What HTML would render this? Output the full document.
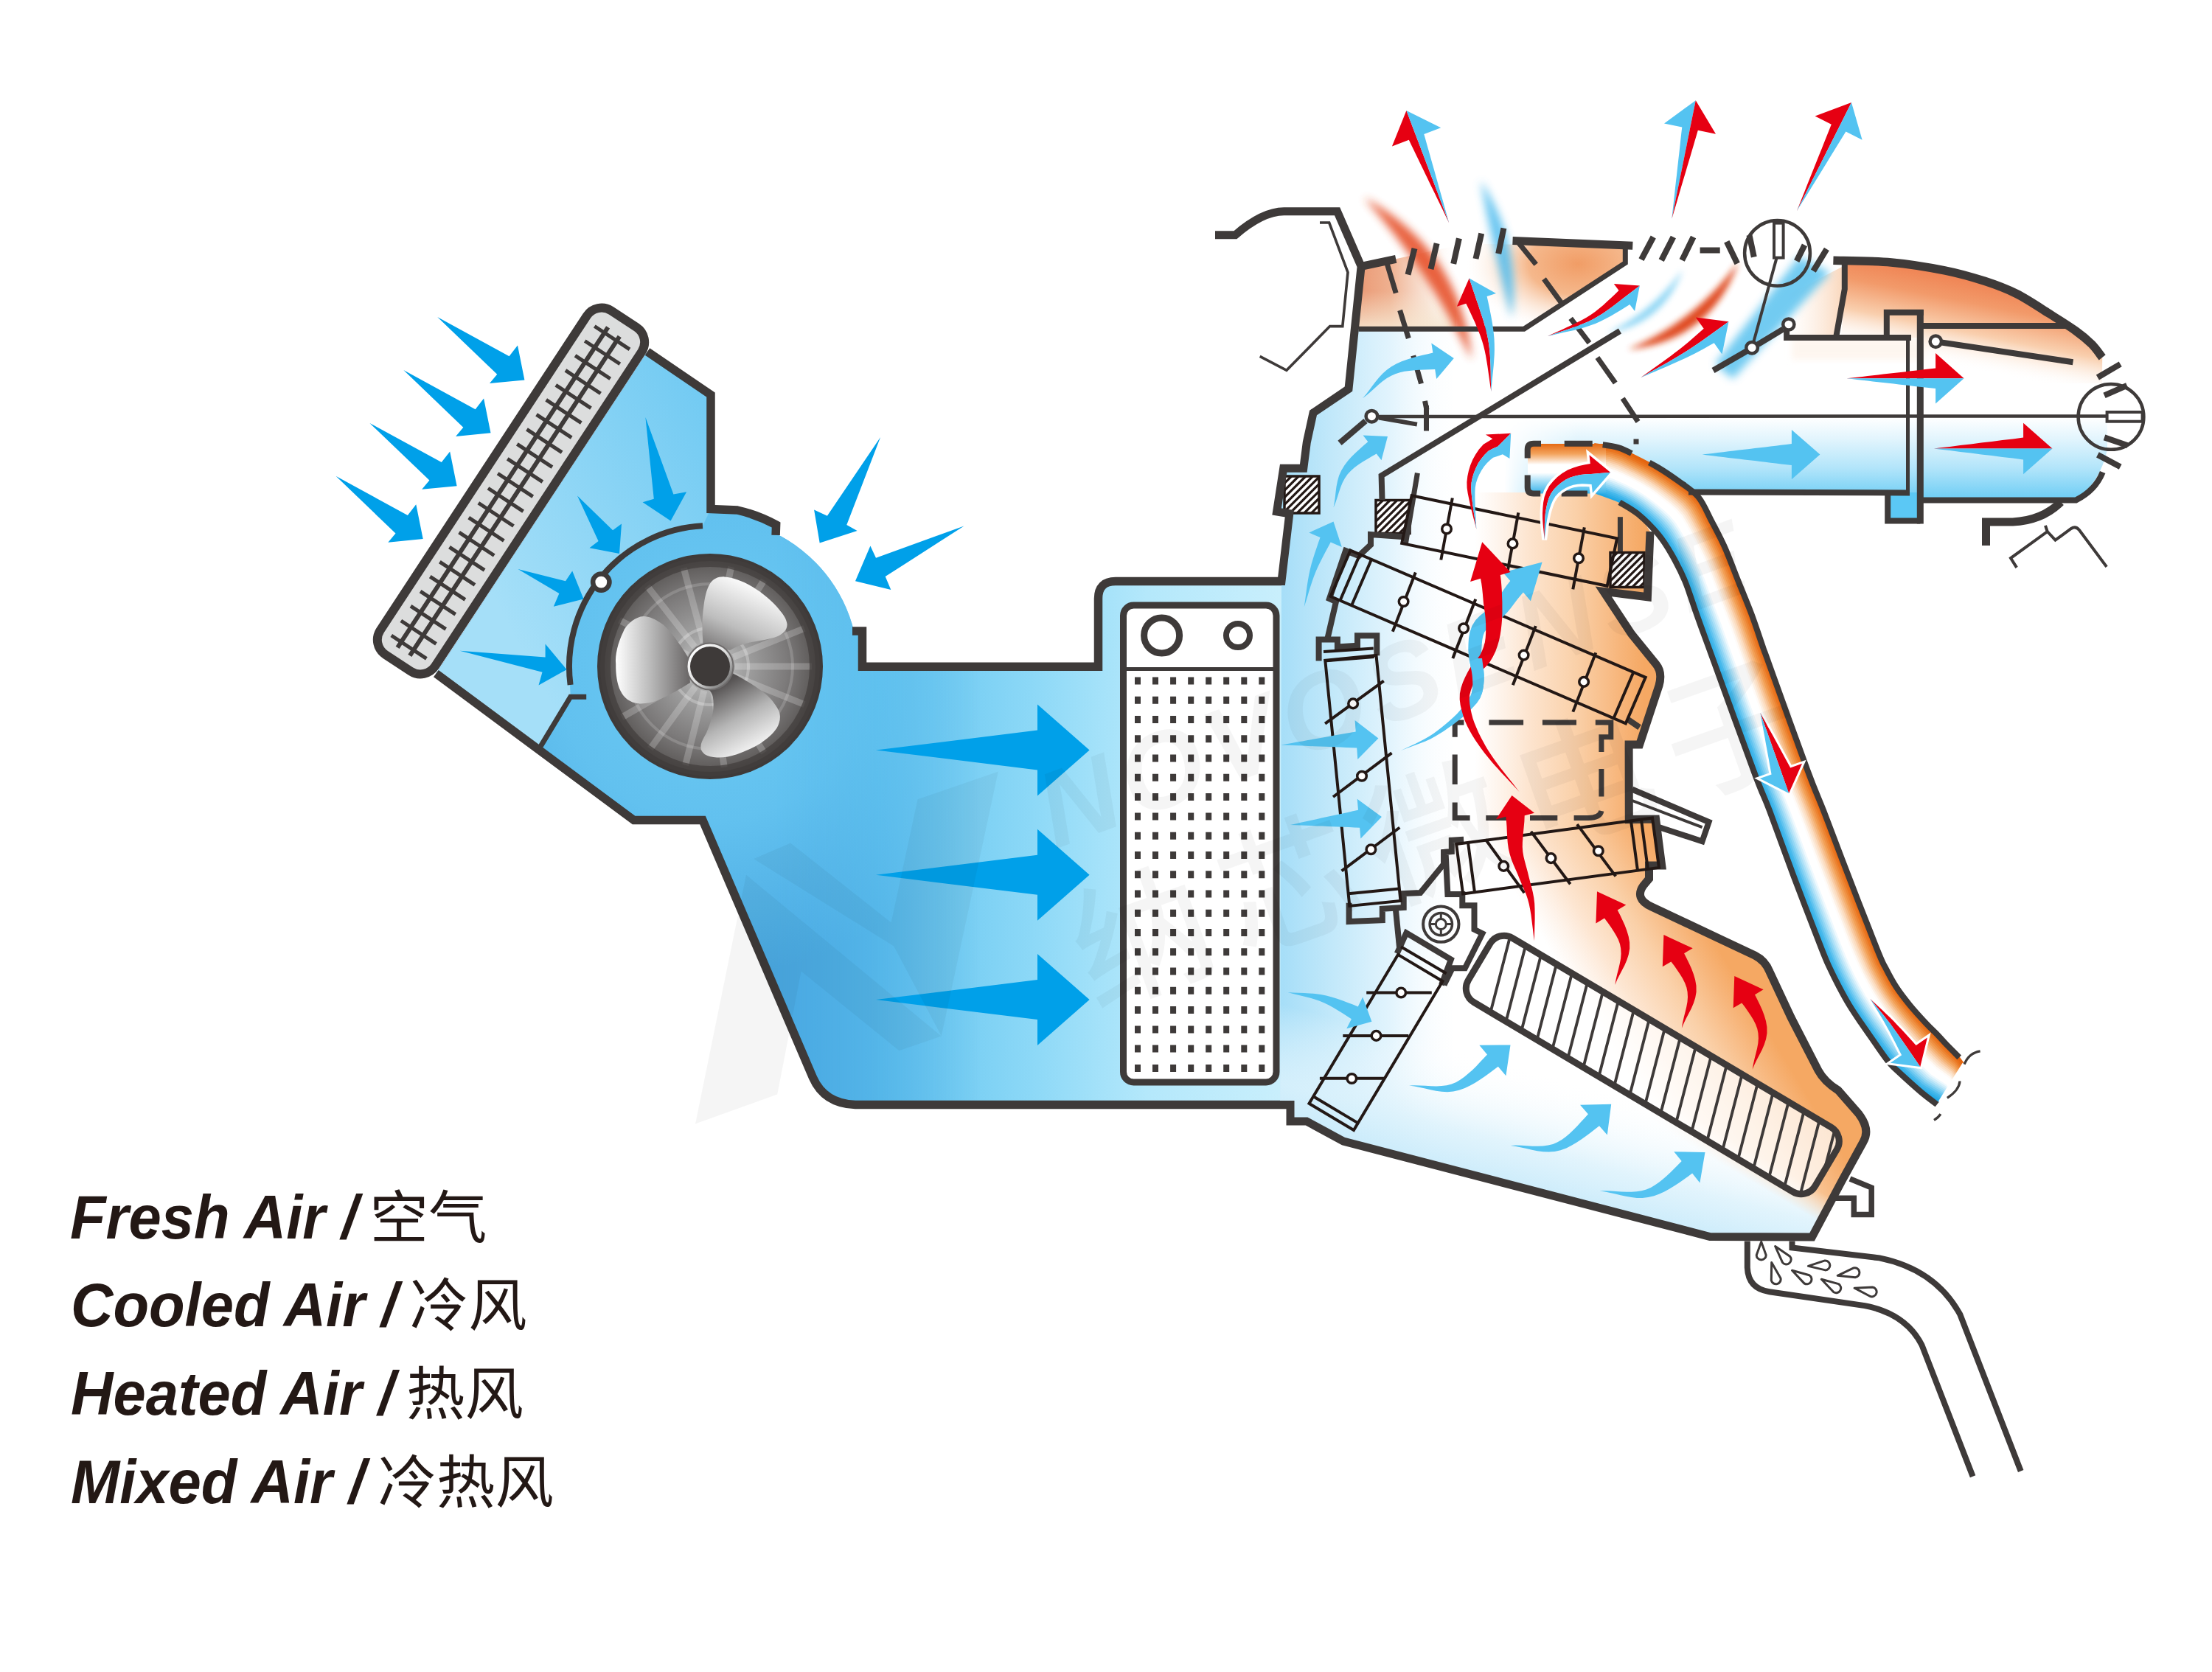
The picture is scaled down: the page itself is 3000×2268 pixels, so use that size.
<!DOCTYPE html>
<html lang="zh"><head><meta charset="utf-8"><title>HVAC Air Flow</title>
<style>
html,body{margin:0;padding:0;background:#fff;}
body{width:3000px;height:2268px;overflow:hidden;position:relative;font-family:"Liberation Sans","Noto Sans CJK SC",sans-serif;}
svg{position:absolute;left:0;top:0;display:block}
.ln{position:absolute;left:0;width:1200px;height:140px;color:#231815;white-space:nowrap}
.ln span{position:absolute;display:block;line-height:140px;height:140px;top:0}
.en{font-family:"Liberation Sans",sans-serif;font-weight:bold;font-style:italic;font-size:82.6px;transform:scaleX(0.963);transform-origin:0 0}
.zh{font-family:"Liberation Sans","Noto Sans CJK SC","WenQuanYi Zen Hei",sans-serif;font-weight:400;font-size:79.5px;transform:scaleY(0.985);transform-origin:0 100px}
</style></head><body>
<svg width="3000" height="2268" viewBox="0 0 3000 2268">
<defs>

<linearGradient id="gBody" gradientUnits="userSpaceOnUse" x1="1000" y1="0" x2="1740" y2="0">
 <stop offset="0" stop-color="#4fb0e6"/><stop offset="0.25" stop-color="#5ec2ef"/><stop offset="0.55" stop-color="#8ed9f7"/><stop offset="0.75" stop-color="#b4e8fb"/><stop offset="1" stop-color="#c9effc"/>
</linearGradient>
<linearGradient id="gIntake" gradientUnits="userSpaceOnUse" x1="640" y1="760" x2="1000" y2="560">
 <stop offset="0" stop-color="#a5dff8"/><stop offset="1" stop-color="#6fc9f2"/>
</linearGradient>
<radialGradient id="gScroll" gradientUnits="userSpaceOnUse" cx="963" cy="904" r="420">
 <stop offset="0" stop-color="#6ccaf3"/><stop offset="0.5" stop-color="#62c1ef"/><stop offset="1" stop-color="#4aa9e2"/>
</radialGradient>
<linearGradient id="gLow" gradientUnits="userSpaceOnUse" x1="700" y1="900" x2="1050" y2="1250">
 <stop offset="0" stop-color="#8fd6f6"/><stop offset="0.45" stop-color="#5fbdee"/><stop offset="1" stop-color="#48a6e0"/>
</linearGradient>
<radialGradient id="gFan" gradientUnits="userSpaceOnUse" cx="963" cy="904" r="150">
 <stop offset="0" stop-color="#cccccc"/><stop offset="0.3" stop-color="#a2a2a2"/><stop offset="0.7" stop-color="#7c7a7a"/><stop offset="0.9" stop-color="#625f5e"/><stop offset="1" stop-color="#4a4645"/>
</radialGradient>
<linearGradient id="gBl1" gradientUnits="userSpaceOnUse" x1="835" y1="0" x2="935" y2="0">
 <stop offset="0" stop-color="#ffffff"/><stop offset="0.45" stop-color="#bdbdbd"/><stop offset="1" stop-color="#6a6767"/>
</linearGradient>
<linearGradient id="gBl2" gradientUnits="userSpaceOnUse" x1="1010" y1="790" x2="960" y2="900">
 <stop offset="0" stop-color="#fafafa"/><stop offset="0.5" stop-color="#bdbdbd"/><stop offset="1" stop-color="#5a5757"/>
</linearGradient>
<linearGradient id="gBl3" gradientUnits="userSpaceOnUse" x1="1035" y1="1015" x2="985" y2="925">
 <stop offset="0" stop-color="#fafafa"/><stop offset="0.5" stop-color="#b5b5b5"/><stop offset="1" stop-color="#555252"/>
</linearGradient>
<linearGradient id="gHub" gradientUnits="userSpaceOnUse" x1="940" y1="880" x2="990" y2="930">
 <stop offset="0" stop-color="#ffffff"/><stop offset="0.5" stop-color="#dddddd"/><stop offset="1" stop-color="#666"/>
</linearGradient>

<clipPath id="cBody"><path d="M878,477 L964,535.6 L964,690.5 L1000,692 A212,212 0 0 1 1052.6,711.9 L1049.5,722.6 A201,201 0 0 1 1158.4,857.1 L1169.5,856 L1169.5,904.3 L1489.5,904.3 L1489.5,812 Q1489.5,788.6 1513,788.6 L1745,788.6 L1745,1498.5 L1160,1498.5 Q1118,1497 1102.5,1461.7 L953,1112.5 L859.7,1112.5 L591.4,913.7 Z"/></clipPath>
<linearGradient id="gFadeR" gradientUnits="userSpaceOnUse" x1="1050" y1="0" x2="1330" y2="0">
<stop offset="0" stop-color="#fff" stop-opacity="1"/><stop offset="1" stop-color="#fff" stop-opacity="0"/></linearGradient>
<mask id="mFade"><rect x="0" y="0" width="3000" height="2268" fill="url(#gFadeR)"/></mask>
<clipPath id="cCase"><polygon points="1846.0,361.0 1829.0,527.6 1781.0,560.0 1772.0,600.0 1768.0,635.0 1741.0,635.0 1732.0,694.0 1749.0,697.0 1738.0,788.0 1736.0,1498.5 1750.0,1498.5 1750.0,1521.0 1772.0,1521.0 1822.0,1548.0 2319.0,1677.0 2458.0,1677.0 2499.0,1600.0 2527.0,1549.0 2533.0,1530.0 2521.0,1511.0 2493.0,1479.0 2466.0,1452.0 2429.0,1380.0 2389.0,1300.0 2232.0,1226.0 2225.0,1210.0 2236.0,1193.0 2236.0,1174.0 2254.0,1174.0 2246.0,1111.0 2209.0,1111.0 2209.0,1010.0 2222.0,1010.0 2250.0,925.0 2245.0,899.0 2212.7,860.0 2175.0,802.0 2234.0,810.0 2238.0,721.0 2225.0,700.0 2196.5,681.3 2196.5,667.0 2300.0,667.0 2300.0,440.0 1846.0,440.0"/></clipPath>

<linearGradient id="gColdH" gradientUnits="userSpaceOnUse" x1="1738" y1="0" x2="1985" y2="0">
 <stop offset="0" stop-color="#a6def8"/><stop offset="0.3" stop-color="#c4e9fa"/><stop offset="0.6" stop-color="#e2f4fd"/><stop offset="1" stop-color="#ffffff" stop-opacity="0"/>
</linearGradient>
<linearGradient id="gColdB" gradientUnits="userSpaceOnUse" x1="2050" y1="1640" x2="2098" y2="1455">
 <stop offset="0" stop-color="#bfe7fa"/><stop offset="0.45" stop-color="#dcf2fc" stop-opacity="0.85"/><stop offset="1" stop-color="#ffffff" stop-opacity="0"/>
</linearGradient>
<linearGradient id="gColdL" gradientUnits="userSpaceOnUse" x1="1740" y1="0" x2="2040" y2="0">
 <stop offset="0" stop-color="#a6def8"/><stop offset="0.45" stop-color="#c6eafb"/><stop offset="1" stop-color="#ffffff" stop-opacity="0"/>
</linearGradient>
<linearGradient id="gHotH" gradientUnits="userSpaceOnUse" x1="2000" y1="0" x2="2230" y2="0">
 <stop offset="0" stop-color="#fdeadb" stop-opacity="0"/><stop offset="0.3" stop-color="#fde6d2"/><stop offset="0.6" stop-color="#fad0a8"/><stop offset="0.85" stop-color="#f7b67c"/><stop offset="1" stop-color="#f5a863"/>
</linearGradient>
<linearGradient id="gHotD" gradientUnits="userSpaceOnUse" x1="2000" y1="1120" x2="2168.5" y2="1018.2">
 <stop offset="0" stop-color="#fdeadb" stop-opacity="0"/><stop offset="0.3" stop-color="#fde6d2"/><stop offset="0.6" stop-color="#fad0a8"/><stop offset="0.85" stop-color="#f7b67c"/><stop offset="1" stop-color="#f5a863"/>
</linearGradient>
<linearGradient id="gDuct" gradientUnits="userSpaceOnUse" x1="0" y1="566" x2="0" y2="680">
 <stop offset="0" stop-color="#ffffff"/><stop offset="0.25" stop-color="#e3f5fd"/><stop offset="0.6" stop-color="#b3e5fa"/><stop offset="1" stop-color="#68cbf4"/>
</linearGradient>
<linearGradient id="gDuctFade" gradientUnits="userSpaceOnUse" x1="2040" y1="0" x2="2140" y2="0">
 <stop offset="0" stop-color="#fff" stop-opacity="0"/><stop offset="1" stop-color="#fff" stop-opacity="1"/>
</linearGradient>
<mask id="mDuct"><rect x="2000" y="500" width="1000" height="250" fill="url(#gDuctFade)"/></mask>
<linearGradient id="gDef1" gradientUnits="userSpaceOnUse" x1="1846" y1="0" x2="1975" y2="0">
 <stop offset="0" stop-color="#eb9c78"/><stop offset="0.3" stop-color="#efb08f"/><stop offset="0.7" stop-color="#f8dfd0" stop-opacity="0.8"/><stop offset="1" stop-color="#ffffff" stop-opacity="0"/>
</linearGradient>
<linearGradient id="gDef1v" gradientUnits="userSpaceOnUse" x1="0" y1="395" x2="0" y2="446">
 <stop offset="0" stop-color="#f6e6d0" stop-opacity="0"/><stop offset="1" stop-color="#f6e6d0" stop-opacity="0.9"/>
</linearGradient>
<radialGradient id="gDef2" gradientUnits="userSpaceOnUse" cx="2140" cy="358" r="150" gradientTransform="translate(2140,358) scale(1,0.62) translate(-2140,-358)">
 <stop offset="0" stop-color="#f19d66"/><stop offset="0.45" stop-color="#f5b88c"/><stop offset="1" stop-color="#fdeee2" stop-opacity="0"/>
</radialGradient>
<linearGradient id="gDome" gradientUnits="userSpaceOnUse" x1="2640" y1="365" x2="2615" y2="490">
 <stop offset="0" stop-color="#ef7f4f"/><stop offset="0.3" stop-color="#f29a6a"/><stop offset="0.62" stop-color="#f9cfae"/><stop offset="1" stop-color="#ffffff" stop-opacity="0"/>
</linearGradient>
<linearGradient id="gDomeL" gradientUnits="userSpaceOnUse" x1="2425" y1="0" x2="2505" y2="0">
 <stop offset="0" stop-color="#fdebdc" stop-opacity="0"/><stop offset="1" stop-color="#f9d3b5"/>
</linearGradient>
<filter id="fB6" x="-30%" y="-30%" width="160%" height="160%"><feGaussianBlur stdDeviation="6"/></filter>
<filter id="fB4" x="-30%" y="-30%" width="160%" height="160%"><feGaussianBlur stdDeviation="4"/></filter>
<filter id="fB3" x="-30%" y="-30%" width="160%" height="160%"><feGaussianBlur stdDeviation="3"/></filter>
<filter id="fB10" x="-30%" y="-30%" width="160%" height="160%"><feGaussianBlur stdDeviation="10"/></filter>

<linearGradient id="gHotMaskG" gradientUnits="userSpaceOnUse" x1="2224.4" y1="1472.6" x2="2206.2" y2="1503.6"><stop offset="0" stop-color="#fff"/><stop offset="1" stop-color="#000"/></linearGradient><mask id="mHot" maskUnits="userSpaceOnUse" x="1900" y="1100" width="700" height="650"><rect x="1900" y="1100" width="700" height="650" fill="url(#gHotMaskG)"/></mask>
<clipPath id="cDef2"><polygon points="1960,330 2204,334 2204,357 2067,446 1960,446"/></clipPath>
<linearGradient id="gPipeBox" gradientUnits="userSpaceOnUse" x1="0" y1="602" x2="0" y2="669.5">
<stop offset="0" stop-color="#e56a14"/><stop offset="0.2" stop-color="#f3a35c"/><stop offset="0.42" stop-color="#ffffff"/><stop offset="0.58" stop-color="#ffffff"/><stop offset="0.75" stop-color="#a9e0f8"/><stop offset="1" stop-color="#35b2e9"/></linearGradient>
<clipPath id="cHeat"><rect x="-273.5" y="-50.85" width="547" height="101.7" rx="22" ry="22"/></clipPath>
<clipPath id="h1"><rect x="1742.0" y="646.0" width="47.0" height="50.0"/></clipPath>
<clipPath id="h2"><rect x="1866.0" y="678.5" width="46.0" height="45.0"/></clipPath>
<clipPath id="h3"><rect x="2184.0" y="749.5" width="46.0" height="47.0"/></clipPath>
<clipPath id="cTw"><rect x="1960" y="893" width="80" height="50"/></clipPath>
</defs>
<path d="M878,477 L964,535.6 L964,690.5 L1000,692 A212,212 0 0 1 1052.6,711.9 L1049.5,722.6 A201,201 0 0 1 1158.4,857.1 L1169.5,856 L1169.5,904.3 L1489.5,904.3 L1489.5,812 Q1489.5,788.6 1513,788.6 L1745,788.6 L1745,1498.5 L1160,1498.5 Q1118,1497 1102.5,1461.7 L953,1112.5 L859.7,1112.5 L591.4,913.7 Z" fill="url(#gBody)"/>
<g clip-path="url(#cBody)"><g mask="url(#mFade)">
<rect x="500" y="400" width="900" height="1150" fill="url(#gScroll)"/>
<polygon points="878,477 964,535.6 964,690.5 953,713 946.4,713.7 929.8,715.9 913.6,719.5 897.7,724.5 882.3,730.9 867.5,738.6 853.4,747.5 840.2,757.7 827.9,768.9 816.7,781.2 806.5,794.4 797.6,808.5 789.9,823.3 783.5,838.7 778.5,854.6 774.9,870.8 772.7,887.4 772.0,904.0 772.7,920.6 773.7,945.3 733.2,1012.4 591.4,913.7" fill="url(#gIntake)"/>
</g></g>
<g transform="translate(693,666) rotate(33.3)">
<rect x="-44.5" y="-279" width="89" height="558" rx="24" ry="24" fill="#dcdddd" stroke="#3e3a39" stroke-width="12"/>
<path d="M-12,-258 L-12,262 M8,-256 L8,262" stroke="#3e3a39" stroke-width="6" fill="none"/>
<path d="M-28,-249.0 L29,-249.0 M-28,-225.1 L29,-225.1 M-28,-201.2 L29,-201.2 M-28,-177.3 L29,-177.3 M-28,-153.4 L29,-153.4 M-28,-129.5 L29,-129.5 M-28,-105.6 L29,-105.6 M-28,-81.7 L29,-81.7 M-28,-57.8 L29,-57.8 M-28,-33.9 L29,-33.9 M-28,-10.0 L29,-10.0 M-28,13.9 L29,13.9 M-28,37.8 L29,37.8 M-28,61.7 L29,61.7 M-28,85.6 L29,85.6 M-28,109.5 L29,109.5 M-28,133.4 L29,133.4 M-28,157.3 L29,157.3 M-28,181.2 L29,181.2 M-28,205.1 L29,205.1 M-28,229.0 L29,229.0 M-28,252.9 L29,252.9" stroke="#3e3a39" stroke-width="5" fill="none"/>
</g>
<path d="M878,477 L964,535.6 L964,690.5 L1000,692 A212,212 0 0 1 1052.6,711.9 L1052.1,725.9" fill="none" stroke="#3e3a39" stroke-width="11.5" stroke-linejoin="miter"/>
<path d="M1156,856 L1169.5,856 L1169.5,904.3 L1489.5,904.3 L1489.5,812 Q1489.5,788.6 1513,788.6 L1750,788.6" fill="none" stroke="#3e3a39" stroke-width="11.5" stroke-linejoin="miter"/>
<path d="M591.4,913.7 L859.7,1112.5 L953,1112.5 L1102.5,1461.7 Q1118,1497 1160,1498.5 L1750,1498.5" fill="none" stroke="#3e3a39" stroke-width="11.5" stroke-linejoin="miter"/>
<path d="M953.0,713.3 A191,191 0 0 0 773.6,928.9" fill="none" stroke="#3e3a39" stroke-width="8"/>
<path d="M733.2,1012.4 L773.7,945.3 L795.2,945.3" fill="none" stroke="#3e3a39" stroke-width="7"/>
<circle cx="815.3" cy="789.6" r="11.2" fill="#fff" stroke="#3e3a39" stroke-width="6.5"/>
<circle cx="963" cy="904" r="148" fill="url(#gFan)" stroke="#3e3a39" stroke-width="10"/>
<path d="M954.2,871.2 L927.3,770.7 M970.1,870.7 L991.7,769.0 M981.0,875.2 L1036.1,787.0 M994.5,891.3 L1091.0,852.3 M997.0,904.0 L1101.0,904.0 M994.5,916.7 L1091.0,955.7 M981.0,932.8 L1036.1,1021.0 M967.7,937.7 L982.2,1040.7 M954.8,937.0 L929.6,1037.9 M943.0,931.5 L881.9,1015.6 M933.6,921.0 L843.5,973.0 M932.7,888.6 L840.0,841.3 M942.1,877.2 L878.0,795.3" stroke="#fff" stroke-opacity="0.21" stroke-width="9" fill="none"/>
<circle cx="963" cy="904" r="112" fill="none" stroke="#fff" stroke-opacity="0.16" stroke-width="4"/>
<circle cx="963" cy="904" r="52" fill="none" stroke="#fff" stroke-opacity="0.25" stroke-width="4"/>
<circle cx="963" cy="904" r="142" fill="none" stroke="#433f3e" stroke-opacity="0.75" stroke-width="14"/>
<path d="M932.8,890.9 C920,870 905,850 895.7,844.8 C888,839 876,834 868.6,836.6 C858,840 849,848 845.1,857.4 C838,872 834,888 835.2,900.8 C835,915 837,928 841.5,937 C846,947 855,953 865,954.2 C874,955 884,953 892.1,949.7 C908,943 922,935 936,926 Z" fill="url(#gBl1)"/>
<path d="M953.6,873.7 C952,855 952,838 954.5,821.3 C956,810 958,800 962.6,792.3 C967,785 974,782 982.5,782.4 C995,783 1009,789 1020.5,796 C1034,804 1047,815 1056.7,826.7 C1062,833 1067,840 1067.5,846.6 C1068,854 1062,860 1054.9,862.9 C1042,868 1028,869 1015.1,871.9 C1006,874 998,877 990,882 Z" fill="url(#gBl2)"/>
<path d="M993,913 C1007,920 1020,928 1031.9,936.4 C1040,942 1047,949 1051.4,955.9 C1055,961 1058,966 1057.9,972 C1058,978 1056,983 1053.6,987.4 C1048,996 1040,1002 1031.9,1008 C1022,1014 1011,1019 999.3,1023.2 C990,1026 981,1028 972.2,1027.5 C966,1027 960,1026 955.9,1023.2 C952,1020 950,1017 950.5,1012 C951,1006 955,1000 958.1,993.9 C962,985 965,976 966.8,966.8 C968,959 968,952 966.8,945.1 C966,941 964,938 961,935 Z" fill="url(#gBl3)"/>
<circle cx="963" cy="904" r="31.5" fill="url(#gHub)" stroke="#6e6b6b" stroke-width="2"/>
<circle cx="963" cy="904" r="27" fill="#3e3a39"/>
<rect x="1523.5" y="821" width="207.5" height="647" rx="14" ry="14" fill="#fff" stroke="#3e3a39" stroke-width="9"/>
<path d="M1523.5,907.5 L1731,907.5" stroke="#3e3a39" stroke-width="5"/>
<circle cx="1575.6" cy="862" r="24" fill="#fff" stroke="#3e3a39" stroke-width="9"/>
<circle cx="1679" cy="862" r="16" fill="#fff" stroke="#3e3a39" stroke-width="8"/>
<path d="M1539.0,918.5h8v10h-8zM1563.0,918.5h8v10h-8zM1587.1,918.5h8v10h-8zM1611.2,918.5h8v10h-8zM1635.2,918.5h8v10h-8zM1659.2,918.5h8v10h-8zM1683.3,918.5h8v10h-8zM1707.3,918.5h8v10h-8zM1539.0,944.8h8v10h-8zM1563.0,944.8h8v10h-8zM1587.1,944.8h8v10h-8zM1611.2,944.8h8v10h-8zM1635.2,944.8h8v10h-8zM1659.2,944.8h8v10h-8zM1683.3,944.8h8v10h-8zM1707.3,944.8h8v10h-8zM1539.0,971.0h8v10h-8zM1563.0,971.0h8v10h-8zM1587.1,971.0h8v10h-8zM1611.2,971.0h8v10h-8zM1635.2,971.0h8v10h-8zM1659.2,971.0h8v10h-8zM1683.3,971.0h8v10h-8zM1707.3,971.0h8v10h-8zM1539.0,997.3h8v10h-8zM1563.0,997.3h8v10h-8zM1587.1,997.3h8v10h-8zM1611.2,997.3h8v10h-8zM1635.2,997.3h8v10h-8zM1659.2,997.3h8v10h-8zM1683.3,997.3h8v10h-8zM1707.3,997.3h8v10h-8zM1539.0,1023.6h8v10h-8zM1563.0,1023.6h8v10h-8zM1587.1,1023.6h8v10h-8zM1611.2,1023.6h8v10h-8zM1635.2,1023.6h8v10h-8zM1659.2,1023.6h8v10h-8zM1683.3,1023.6h8v10h-8zM1707.3,1023.6h8v10h-8zM1539.0,1049.8h8v10h-8zM1563.0,1049.8h8v10h-8zM1587.1,1049.8h8v10h-8zM1611.2,1049.8h8v10h-8zM1635.2,1049.8h8v10h-8zM1659.2,1049.8h8v10h-8zM1683.3,1049.8h8v10h-8zM1707.3,1049.8h8v10h-8zM1539.0,1076.1h8v10h-8zM1563.0,1076.1h8v10h-8zM1587.1,1076.1h8v10h-8zM1611.2,1076.1h8v10h-8zM1635.2,1076.1h8v10h-8zM1659.2,1076.1h8v10h-8zM1683.3,1076.1h8v10h-8zM1707.3,1076.1h8v10h-8zM1539.0,1102.4h8v10h-8zM1563.0,1102.4h8v10h-8zM1587.1,1102.4h8v10h-8zM1611.2,1102.4h8v10h-8zM1635.2,1102.4h8v10h-8zM1659.2,1102.4h8v10h-8zM1683.3,1102.4h8v10h-8zM1707.3,1102.4h8v10h-8zM1539.0,1128.7h8v10h-8zM1563.0,1128.7h8v10h-8zM1587.1,1128.7h8v10h-8zM1611.2,1128.7h8v10h-8zM1635.2,1128.7h8v10h-8zM1659.2,1128.7h8v10h-8zM1683.3,1128.7h8v10h-8zM1707.3,1128.7h8v10h-8zM1539.0,1154.9h8v10h-8zM1563.0,1154.9h8v10h-8zM1587.1,1154.9h8v10h-8zM1611.2,1154.9h8v10h-8zM1635.2,1154.9h8v10h-8zM1659.2,1154.9h8v10h-8zM1683.3,1154.9h8v10h-8zM1707.3,1154.9h8v10h-8zM1539.0,1181.2h8v10h-8zM1563.0,1181.2h8v10h-8zM1587.1,1181.2h8v10h-8zM1611.2,1181.2h8v10h-8zM1635.2,1181.2h8v10h-8zM1659.2,1181.2h8v10h-8zM1683.3,1181.2h8v10h-8zM1707.3,1181.2h8v10h-8zM1539.0,1207.5h8v10h-8zM1563.0,1207.5h8v10h-8zM1587.1,1207.5h8v10h-8zM1611.2,1207.5h8v10h-8zM1635.2,1207.5h8v10h-8zM1659.2,1207.5h8v10h-8zM1683.3,1207.5h8v10h-8zM1707.3,1207.5h8v10h-8zM1539.0,1233.7h8v10h-8zM1563.0,1233.7h8v10h-8zM1587.1,1233.7h8v10h-8zM1611.2,1233.7h8v10h-8zM1635.2,1233.7h8v10h-8zM1659.2,1233.7h8v10h-8zM1683.3,1233.7h8v10h-8zM1707.3,1233.7h8v10h-8zM1539.0,1260.0h8v10h-8zM1563.0,1260.0h8v10h-8zM1587.1,1260.0h8v10h-8zM1611.2,1260.0h8v10h-8zM1635.2,1260.0h8v10h-8zM1659.2,1260.0h8v10h-8zM1683.3,1260.0h8v10h-8zM1707.3,1260.0h8v10h-8zM1539.0,1286.3h8v10h-8zM1563.0,1286.3h8v10h-8zM1587.1,1286.3h8v10h-8zM1611.2,1286.3h8v10h-8zM1635.2,1286.3h8v10h-8zM1659.2,1286.3h8v10h-8zM1683.3,1286.3h8v10h-8zM1707.3,1286.3h8v10h-8zM1539.0,1312.5h8v10h-8zM1563.0,1312.5h8v10h-8zM1587.1,1312.5h8v10h-8zM1611.2,1312.5h8v10h-8zM1635.2,1312.5h8v10h-8zM1659.2,1312.5h8v10h-8zM1683.3,1312.5h8v10h-8zM1707.3,1312.5h8v10h-8zM1539.0,1338.8h8v10h-8zM1563.0,1338.8h8v10h-8zM1587.1,1338.8h8v10h-8zM1611.2,1338.8h8v10h-8zM1635.2,1338.8h8v10h-8zM1659.2,1338.8h8v10h-8zM1683.3,1338.8h8v10h-8zM1707.3,1338.8h8v10h-8zM1539.0,1365.1h8v10h-8zM1563.0,1365.1h8v10h-8zM1587.1,1365.1h8v10h-8zM1611.2,1365.1h8v10h-8zM1635.2,1365.1h8v10h-8zM1659.2,1365.1h8v10h-8zM1683.3,1365.1h8v10h-8zM1707.3,1365.1h8v10h-8zM1539.0,1391.4h8v10h-8zM1563.0,1391.4h8v10h-8zM1587.1,1391.4h8v10h-8zM1611.2,1391.4h8v10h-8zM1635.2,1391.4h8v10h-8zM1659.2,1391.4h8v10h-8zM1683.3,1391.4h8v10h-8zM1707.3,1391.4h8v10h-8zM1539.0,1417.6h8v10h-8zM1563.0,1417.6h8v10h-8zM1587.1,1417.6h8v10h-8zM1611.2,1417.6h8v10h-8zM1635.2,1417.6h8v10h-8zM1659.2,1417.6h8v10h-8zM1683.3,1417.6h8v10h-8zM1707.3,1417.6h8v10h-8zM1539.0,1443.9h8v10h-8zM1563.0,1443.9h8v10h-8zM1587.1,1443.9h8v10h-8zM1611.2,1443.9h8v10h-8zM1635.2,1443.9h8v10h-8zM1659.2,1443.9h8v10h-8zM1683.3,1443.9h8v10h-8zM1707.3,1443.9h8v10h-8z" fill="#3e3a39"/>
<polygon points="593.2,430.1 690.6,483.3 702.0,468.6 711.4,515.4 664.0,520.0 674.2,507.8" fill="#00a0e9" />
<polygon points="547.3,502.0 644.7,555.2 656.1,540.5 665.5,587.3 618.1,591.9 628.3,579.7" fill="#00a0e9" />
<polygon points="501.4,573.9 598.8,627.1 610.2,612.4 619.6,659.2 572.2,663.8 582.4,651.6" fill="#00a0e9" />
<polygon points="455.5,645.8 552.9,699.0 564.3,684.3 573.7,731.1 526.3,735.7 536.5,723.5" fill="#00a0e9" />
<polygon points="875.4,566.1 913.4,670.6 931.1,667.3 909.6,706.6 871.6,681.3 886.8,676.7" fill="#00a0e9" />
<polygon points="783.0,672.4 831.1,719.2 843.0,710.4 840.0,750.9 799.5,743.3 811.6,733.9" fill="#00a0e9" />
<polygon points="702.5,772.0 767.0,788.2 776.2,774.5 791.5,812.6 750.8,822.8 758.4,805.0" fill="#00a0e9" />
<polygon points="623.7,882.8 739.6,891.4 739.6,873.6 768.6,908.2 730.5,929.6 735.5,911.8" fill="#00a0e9" />
<polygon points="1194.1,593.0 1121.9,699.8 1104.1,691.6 1111.7,736.4 1162.6,720.1 1148.3,712.0" fill="#00a0e9" />
<polygon points="1307.5,713.5 1188.0,756.7 1180.4,740.4 1160.0,788.2 1208.3,799.9 1200.7,782.1" fill="#00a0e9" />
<polygon points="1188.0,1017.5 1407.0,990.5 1407.0,955.5 1477.6,1017.5 1407.0,1079.5 1407.0,1044.5" fill="#00a0e9" />
<polygon points="1188.0,1186.8 1407.0,1159.8 1407.0,1124.8 1477.6,1186.8 1407.0,1248.8 1407.0,1213.8" fill="#00a0e9" />
<polygon points="1188.0,1356.1 1407.0,1329.1 1407.0,1294.1 1477.6,1356.1 1407.0,1418.1 1407.0,1383.1" fill="#00a0e9" />
<g clip-path="url(#cCase)">
<rect x="1730" y="440" width="240" height="1260" fill="url(#gColdH)"/>
<polygon points="1736,1150 2560,1150 2560,1700 1736,1700" fill="url(#gColdB)"/>
<rect x="1985" y="668" width="290" height="452" fill="url(#gHotH)"/>
<polygon points="1985,1120 2560,1120 2560,1700 1985,1700" fill="url(#gHotD)" mask="url(#mHot)"/>
</g>
<polygon points="1846,361 1893,351.3 1990,330 1990,446 1838,446" fill="url(#gDef1)"/>
<polygon points="1840,395 1975,395 1975,446 1838,446" fill="url(#gDef1v)"/>
<g clip-path="url(#cDef2)"><ellipse cx="2140" cy="372" rx="170" ry="95" fill="url(#gDef2)"/></g>
<path d="M2486.4,353.2 C2499.5,353.6 2539.9,353.6 2565.1,355.9 C2590.3,358.2 2616.3,362.6 2637.4,366.8 C2658.5,371.0 2675.4,376.0 2691.7,381.3 C2708.0,386.6 2720.5,391.2 2735.0,398.5 C2749.5,405.8 2765.6,416.8 2778.9,425.2 C2792.2,433.6 2805.4,441.8 2815.1,448.7 C2824.8,455.6 2830.8,460.8 2836.8,466.8 C2842.8,472.8 2848.8,481.9 2851.2,484.9 L2851,520 L2609,520 L2609,458 L2497,458 L2502,392 L2502,357 Z" fill="url(#gDome)"/>
<polygon points="2425,400 2502,360 2502,392 2490,458 2425,458" fill="url(#gDomeL)"/>
<rect x="2430" y="458" width="180" height="30" fill="#fdeee0" opacity="0.5" filter="url(#fB4)"/>
<polygon points="2326,494 2350,514 2482,370 2440,348" fill="#5ac2ef" opacity="0.85" filter="url(#fB6)"/>
<g mask="url(#mDuct)">
<path d="M2030,566 L2858,566 L2858,610 Q2848,655 2815,678 L2604,678 L2604,668 L2030,668 Z" fill="url(#gDuct)"/>
</g>
<rect x="2560" y="668" width="44" height="38.5" fill="#5bc8f5"/>
<path d="M1850.0,268.0 Q1938.0,368.0 1996.0,488.0 Q1981.3,339.3 1850.0,268.0 Z" fill="#e6512a" opacity="0.9" filter="url(#fB6)"/>
<path d="M2008.0,245.0 Q2025.1,339.4 2050.0,432.0 Q2064.1,330.6 2008.0,245.0 Z" fill="#4fbcee" opacity="0.85" filter="url(#fB6)"/>
<path d="M2180.0,452.0 Q2256.1,438.8 2282.0,366.0 Q2242.0,422.0 2180.0,452.0 Z" fill="#7ccff3" opacity="0.85" filter="url(#fB4)"/>
<path d="M2208.0,474.0 Q2320.9,462.3 2358.0,355.0 Q2299.8,435.7 2208.0,474.0 Z" fill="#de4216" opacity="0.95" filter="url(#fB4)"/>
<path d="M2162.0,601.7 L2175.9,603.6 L2189.7,605.8 L2203.0,610.2 L2215.5,616.5 L2227.9,622.9 L2240.3,629.3 L2252.4,636.4 L2264.2,644.0 L2275.6,652.0 L2287.1,660.1 L2298.1,668.7 L2307.1,679.4 L2313.9,691.6 L2320.0,704.2 L2326.5,716.6 L2332.9,729.1 L2338.9,741.7 L2344.3,754.6 L2349.5,767.6 L2354.5,780.7 L2359.7,793.7 L2365.0,806.7 L2370.3,819.6 L2375.3,832.7 L2380.0,845.9 L2384.6,859.1 L2389.1,872.4 L2393.6,885.3 L2398.4,898.4 L2403.2,911.6 L2407.9,924.7 L2412.7,937.9 L2417.4,951.1 L2422.1,964.3 L2426.9,977.4 L2431.6,990.6 L2436.4,1003.8 L2441.2,1016.9 L2446.0,1030.1 L2450.8,1043.2 L2455.7,1056.3 L2460.8,1069.4 L2466.1,1082.3 L2471.4,1095.3 L2476.5,1108.3 L2481.5,1121.4 L2486.4,1134.5 L2491.3,1147.6 L2496.3,1160.7 L2501.4,1173.8 L2506.4,1186.8 L2511.5,1199.9 L2516.5,1212.9 L2521.6,1226.0 L2526.7,1239.0 L2531.7,1252.1 L2536.8,1265.1 L2542.0,1278.1 L2547.2,1291.1 L2552.6,1304.1 L2559.0,1316.5 L2565.6,1328.8 L2573.0,1340.7 L2581.2,1352.1 L2589.9,1363.0 L2599.0,1373.7 L2608.4,1384.1 L2618.0,1394.2 L2628.0,1404.0 L2637.5,1414.3 L2647.3,1424.3 L2657.1,1434.2 L2662.9,1442.1 L2662.9,1442.1 L2630.0,1494.5 L2630.0,1494.5 L2630.0,1494.5 L2601.2,1477.7 L2589.3,1467.1 L2578.9,1457.7 L2560.5,1439.4 L2549.9,1424.8 L2541.9,1413.3 L2533.9,1401.9 L2525.9,1390.4 L2516.9,1377.1 L2508.3,1363.7 L2499.3,1348.0 L2492.8,1335.7 L2485.5,1321.4 L2478.7,1307.0 L2471.8,1290.3 L2466.7,1277.3 L2461.6,1264.2 L2456.6,1251.2 L2451.5,1238.1 L2446.5,1225.0 L2441.5,1212.0 L2436.5,1198.9 L2431.6,1185.8 L2426.0,1170.8 L2421.2,1157.6 L2416.4,1144.5 L2411.7,1131.3 L2406.9,1118.2 L2402.7,1106.9 L2397.7,1093.8 L2393.1,1082.7 L2386.9,1068.0 L2381.9,1054.9 L2376.3,1040.0 L2371.4,1026.8 L2366.6,1013.7 L2361.8,1000.5 L2357.0,987.4 L2352.2,974.2 L2347.5,961.0 L2342.7,947.9 L2337.9,934.7 L2333.1,921.6 L2328.4,908.4 L2323.6,895.3 L2319.0,882.8 L2314.2,869.6 L2309.4,856.4 L2304.6,843.3 L2299.9,830.1 L2294.8,814.9 L2290.9,803.6 L2286.8,792.3 L2283.0,783.1 L2277.9,772.2 L2272.4,761.5 L2266.6,751.1 L2260.5,740.7 L2254.9,732.4 L2250.0,726.1 L2243.5,718.5 L2236.6,711.3 L2228.0,702.9 L2220.4,696.4 L2214.1,691.5 L2207.4,687.2 L2198.6,682.4 L2189.5,678.2 L2180.1,674.8 L2166.9,670.2 L2165.0,669.5 L2165.0,669.5 Z" fill="#fff"/>
<path d="M2164.9,668.3 L2165.2,668.3 L2167.3,669.0 L2180.5,673.6 L2190.0,677.1 L2199.1,681.3 L2207.9,686.1 L2214.7,690.6 L2221.2,695.4 L2228.8,702.0 L2237.5,710.3 L2244.5,717.6 L2251.0,725.2 L2256.0,731.7 L2261.5,740.1 L2267.6,750.4 L2273.5,761.0 L2279.0,771.7 L2284.1,782.6 L2288.0,791.9 L2292.1,803.2 L2296.0,814.6 L2301.1,829.7 L2305.8,842.9 L2310.6,856.0 L2315.4,869.2 L2320.2,882.3 L2324.7,894.8 L2329.5,908.0 L2334.3,921.2 L2339.1,934.3 L2343.9,947.5 L2348.6,960.6 L2353.4,973.8 L2358.2,987.0 L2363.0,1000.1 L2367.8,1013.3 L2372.6,1026.4 L2377.4,1039.5 L2383.0,1054.5 L2388.1,1067.6 L2394.3,1082.3 L2398.8,1093.4 L2403.8,1106.5 L2408.0,1117.8 L2412.8,1130.9 L2417.6,1144.1 L2422.4,1157.2 L2427.2,1170.4 L2432.8,1185.3 L2437.7,1198.4 L2442.7,1211.5 L2447.7,1224.6 L2452.7,1237.7 L2457.7,1250.7 L2462.8,1263.8 L2467.9,1276.8 L2473.0,1289.9 L2479.8,1306.4 L2486.6,1320.9 L2493.8,1335.1 L2500.4,1347.5 L2509.3,1363.0 L2517.9,1376.5 L2526.9,1389.7 L2534.9,1401.2 L2543.0,1412.6 L2551.0,1424.1 L2561.5,1438.6 L2579.8,1456.7 L2590.1,1466.2 L2602.0,1476.8 L2630.5,1493.4 L2630.6,1493.6 L2630.6,1493.6" fill="none" stroke="#20a6e3" stroke-width="3.8" stroke-linejoin="round"/>
<path d="M2164.8,665.9 L2165.6,666.0 L2168.1,666.7 L2181.3,671.3 L2190.9,674.9 L2200.2,679.2 L2209.1,684.1 L2216.1,688.6 L2222.8,693.6 L2230.5,700.2 L2239.3,708.5 L2246.4,715.8 L2253.1,723.6 L2258.1,730.2 L2263.6,738.8 L2269.8,749.2 L2275.6,759.8 L2281.2,770.6 L2286.3,781.6 L2290.2,791.0 L2294.4,802.4 L2298.3,813.8 L2303.4,828.8 L2308.1,842.0 L2312.9,855.2 L2317.7,868.3 L2322.5,881.5 L2327.1,894.0 L2331.9,907.2 L2336.6,920.3 L2341.4,933.5 L2346.2,946.6 L2351.0,959.8 L2355.7,973.0 L2360.5,986.1 L2365.3,999.3 L2370.1,1012.4 L2374.9,1025.6 L2379.7,1038.7 L2385.3,1053.6 L2390.3,1066.7 L2396.5,1081.3 L2401.1,1092.5 L2406.1,1105.6 L2410.3,1116.9 L2415.1,1130.1 L2419.9,1143.2 L2424.7,1156.4 L2429.5,1169.5 L2435.1,1184.4 L2440.0,1197.5 L2445.0,1210.6 L2450.0,1223.7 L2455.0,1236.8 L2460.1,1249.8 L2465.1,1262.9 L2470.2,1275.9 L2475.3,1289.0 L2482.1,1305.4 L2488.8,1319.8 L2496.0,1334.0 L2502.5,1346.4 L2511.4,1361.8 L2519.9,1375.2 L2528.9,1388.3 L2536.9,1399.8 L2545.0,1411.2 L2553.1,1422.6 L2563.6,1437.0 L2581.5,1454.8 L2591.8,1464.3 L2603.7,1474.9 L2631.5,1491.3 L2631.8,1491.7 L2631.8,1491.7" fill="none" stroke="#2cace6" stroke-width="3.8" stroke-linejoin="round"/>
<path d="M2164.7,663.4 L2166.0,663.6 L2168.9,664.4 L2182.1,669.0 L2191.8,672.7 L2201.2,677.0 L2210.3,682.0 L2217.5,686.6 L2224.3,691.7 L2232.2,698.4 L2241.1,706.7 L2248.4,714.1 L2255.1,721.9 L2260.2,728.8 L2265.8,737.5 L2271.9,748.0 L2277.8,758.6 L2283.3,769.5 L2288.5,780.5 L2292.4,790.1 L2296.6,801.5 L2300.6,813.1 L2305.7,828.0 L2310.5,841.2 L2315.3,854.3 L2320.1,867.5 L2324.9,880.6 L2329.4,893.2 L2334.2,906.3 L2339.0,919.5 L2343.7,932.7 L2348.5,945.8 L2353.3,959.0 L2358.1,972.1 L2362.8,985.3 L2367.6,998.5 L2372.4,1011.6 L2377.2,1024.8 L2382.1,1037.9 L2387.6,1052.7 L2392.6,1065.8 L2398.7,1080.4 L2403.4,1091.6 L2408.4,1104.7 L2412.6,1116.1 L2417.5,1129.3 L2422.2,1142.4 L2427.0,1155.6 L2431.9,1168.7 L2437.4,1183.5 L2442.3,1196.6 L2447.3,1209.7 L2452.3,1222.8 L2457.3,1235.9 L2462.4,1248.9 L2467.4,1262.0 L2472.5,1275.0 L2477.6,1288.1 L2484.3,1304.4 L2491.0,1318.7 L2498.1,1332.9 L2504.7,1345.2 L2513.4,1360.6 L2521.9,1373.9 L2530.8,1387.0 L2538.9,1398.4 L2547.0,1409.8 L2555.2,1421.2 L2565.7,1435.3 L2583.3,1452.9 L2593.6,1462.4 L2605.3,1473.0 L2632.4,1489.1 L2632.9,1489.8 L2632.9,1489.8" fill="none" stroke="#39b3e9" stroke-width="3.8" stroke-linejoin="round"/>
<path d="M2164.6,661.0 L2166.4,661.3 L2169.7,662.1 L2183.0,666.7 L2192.7,670.5 L2202.3,674.9 L2211.5,679.9 L2218.9,684.6 L2225.9,689.8 L2233.9,696.6 L2242.9,704.9 L2250.3,712.3 L2257.2,720.2 L2262.3,727.3 L2267.9,736.2 L2274.1,746.8 L2280.0,757.5 L2285.5,768.4 L2290.6,779.5 L2294.7,789.2 L2298.9,800.7 L2302.9,812.3 L2308.0,827.2 L2312.8,840.3 L2317.6,853.5 L2322.4,866.6 L2327.2,879.8 L2331.8,892.4 L2336.5,905.5 L2341.3,918.7 L2346.1,931.8 L2350.8,945.0 L2355.6,958.2 L2360.4,971.3 L2365.2,984.5 L2370.0,997.6 L2374.7,1010.8 L2379.6,1023.9 L2384.4,1037.1 L2389.9,1051.8 L2394.9,1064.9 L2401.0,1079.4 L2405.6,1090.8 L2410.6,1103.8 L2414.9,1115.3 L2419.8,1128.4 L2424.6,1141.6 L2429.4,1154.7 L2434.2,1167.9 L2439.7,1182.6 L2444.7,1195.7 L2449.6,1208.8 L2454.6,1221.9 L2459.7,1235.0 L2464.7,1248.0 L2469.8,1261.1 L2474.8,1274.1 L2479.9,1287.2 L2486.6,1303.3 L2493.2,1317.6 L2500.2,1331.7 L2506.8,1344.1 L2515.5,1359.3 L2523.9,1372.6 L2532.8,1385.6 L2540.9,1397.0 L2549.1,1408.4 L2557.3,1419.7 L2567.7,1433.7 L2585.0,1451.0 L2595.3,1460.5 L2607.0,1471.1 L2633.4,1487.0 L2634.1,1488.0 L2634.1,1488.0" fill="none" stroke="#47b9ec" stroke-width="3.8" stroke-linejoin="round"/>
<path d="M2164.5,658.6 L2166.7,658.9 L2170.5,659.8 L2183.8,664.4 L2193.7,668.3 L2203.3,672.8 L2212.7,677.9 L2220.2,682.7 L2227.5,688.0 L2235.6,694.7 L2244.7,703.0 L2252.3,710.5 L2259.2,718.6 L2264.4,725.9 L2270.0,734.9 L2276.2,745.5 L2282.1,756.3 L2287.7,767.3 L2292.8,778.5 L2296.9,788.3 L2301.2,799.9 L2305.2,811.5 L2310.4,826.3 L2315.2,839.5 L2320.0,852.6 L2324.8,865.8 L2329.5,879.0 L2334.1,891.6 L2338.8,904.7 L2343.6,917.8 L2348.4,931.0 L2353.2,944.2 L2357.9,957.3 L2362.7,970.5 L2367.5,983.7 L2372.3,996.8 L2377.1,1010.0 L2381.9,1023.1 L2386.7,1036.3 L2392.2,1050.9 L2397.2,1064.0 L2403.2,1078.5 L2407.9,1089.9 L2412.9,1103.0 L2417.2,1114.5 L2422.1,1127.6 L2426.9,1140.8 L2431.7,1153.9 L2436.5,1167.1 L2442.0,1181.8 L2447.0,1194.8 L2452.0,1207.9 L2457.0,1221.0 L2462.0,1234.1 L2467.0,1247.1 L2472.1,1260.2 L2477.2,1273.2 L2482.3,1286.3 L2488.9,1302.3 L2495.4,1316.6 L2502.4,1330.6 L2508.9,1343.0 L2517.5,1358.1 L2525.9,1371.3 L2534.8,1384.2 L2542.9,1395.6 L2551.1,1407.0 L2559.3,1418.3 L2569.8,1432.1 L2586.8,1449.1 L2597.0,1458.6 L2608.6,1469.2 L2634.4,1484.8 L2635.3,1486.1 L2635.3,1486.1" fill="none" stroke="#60c3ef" stroke-width="3.8" stroke-linejoin="round"/>
<path d="M2164.4,656.2 L2167.1,656.6 L2171.4,657.5 L2184.6,662.1 L2194.6,666.1 L2204.4,670.7 L2213.8,675.8 L2221.6,680.7 L2229.0,686.1 L2237.3,692.9 L2246.5,701.2 L2254.2,708.7 L2261.2,716.9 L2266.5,724.4 L2272.1,733.6 L2278.3,744.3 L2284.3,755.2 L2289.9,766.2 L2295.0,777.5 L2299.1,787.5 L2303.4,799.1 L2307.5,810.8 L2312.7,825.5 L2317.5,838.6 L2322.4,851.8 L2327.1,864.9 L2331.9,878.1 L2336.4,890.8 L2341.2,903.9 L2346.0,917.0 L2350.7,930.2 L2355.5,943.3 L2360.3,956.5 L2365.0,969.7 L2369.8,982.8 L2374.6,996.0 L2379.4,1009.1 L2384.2,1022.3 L2389.0,1035.4 L2394.5,1050.1 L2399.5,1063.1 L2405.4,1077.6 L2410.1,1089.0 L2415.2,1102.1 L2419.5,1113.7 L2424.4,1126.8 L2429.2,1140.0 L2434.0,1153.1 L2438.9,1166.2 L2444.3,1180.9 L2449.3,1193.9 L2454.3,1207.0 L2459.3,1220.1 L2464.3,1233.2 L2469.3,1246.2 L2474.4,1259.3 L2479.5,1272.3 L2484.6,1285.4 L2491.1,1301.3 L2497.6,1315.5 L2504.5,1329.5 L2511.1,1341.8 L2519.5,1356.8 L2527.9,1370.0 L2536.7,1382.9 L2544.9,1394.3 L2553.1,1405.5 L2561.4,1416.8 L2571.8,1430.5 L2588.5,1447.2 L2598.7,1456.8 L2610.3,1467.2 L2635.3,1482.7 L2636.5,1484.2 L2636.5,1484.2" fill="none" stroke="#79cdf2" stroke-width="3.8" stroke-linejoin="round"/>
<path d="M2164.3,653.8 L2167.5,654.2 L2172.2,655.2 L2185.4,659.8 L2195.5,663.9 L2205.4,668.5 L2215.0,673.7 L2223.0,678.7 L2230.6,684.2 L2239.0,691.1 L2248.3,699.4 L2256.2,706.9 L2263.3,715.2 L2268.6,723.0 L2274.3,732.3 L2280.5,743.1 L2286.4,754.0 L2292.1,765.1 L2297.2,776.5 L2301.4,786.6 L2305.7,798.3 L2309.9,810.0 L2315.0,824.7 L2319.9,837.8 L2324.7,850.9 L2329.5,864.1 L2334.2,877.3 L2338.8,889.9 L2343.5,903.0 L2348.3,916.2 L2353.1,929.4 L2357.8,942.5 L2362.6,955.7 L2367.4,968.8 L2372.1,982.0 L2376.9,995.2 L2381.7,1008.3 L2386.5,1021.5 L2391.3,1034.6 L2396.8,1049.2 L2401.8,1062.2 L2407.7,1076.6 L2412.4,1088.2 L2417.4,1101.2 L2421.9,1112.9 L2426.7,1126.0 L2431.5,1139.1 L2436.4,1152.3 L2441.2,1165.4 L2446.6,1180.0 L2451.6,1193.1 L2456.6,1206.1 L2461.6,1219.2 L2466.6,1232.3 L2471.7,1245.3 L2476.7,1258.4 L2481.8,1271.4 L2486.9,1284.5 L2493.4,1300.3 L2499.8,1314.4 L2506.6,1328.3 L2513.2,1340.7 L2521.6,1355.6 L2529.9,1368.7 L2538.7,1381.5 L2546.9,1392.9 L2555.2,1404.1 L2563.5,1415.3 L2573.9,1428.9 L2590.3,1445.2 L2600.4,1454.9 L2611.9,1465.3 L2636.3,1480.5 L2637.6,1482.3 L2637.6,1482.3" fill="none" stroke="#92d6f4" stroke-width="3.8" stroke-linejoin="round"/>
<path d="M2164.2,651.3 L2167.9,651.8 L2173.0,652.9 L2186.2,657.5 L2196.4,661.7 L2206.4,666.4 L2216.2,671.7 L2224.3,676.8 L2232.1,682.3 L2240.7,689.3 L2250.1,697.5 L2258.1,705.2 L2265.3,713.6 L2270.7,721.5 L2276.4,731.0 L2282.6,741.8 L2288.6,752.8 L2294.2,764.0 L2299.4,775.5 L2303.6,785.7 L2308.0,797.4 L2312.2,809.3 L2317.3,823.8 L2322.2,837.0 L2327.1,850.1 L2331.8,863.2 L2336.6,876.4 L2341.1,889.1 L2345.8,902.2 L2350.6,915.4 L2355.4,928.5 L2360.2,941.7 L2364.9,954.9 L2369.7,968.0 L2374.5,981.2 L2379.3,994.3 L2384.0,1007.5 L2388.8,1020.6 L2393.7,1033.8 L2399.0,1048.3 L2404.0,1061.4 L2409.9,1075.7 L2414.6,1087.3 L2419.7,1100.3 L2424.2,1112.0 L2429.0,1125.2 L2433.9,1138.3 L2438.7,1151.4 L2443.5,1164.6 L2449.0,1179.1 L2453.9,1192.2 L2458.9,1205.2 L2463.9,1218.3 L2468.9,1231.4 L2474.0,1244.4 L2479.0,1257.5 L2484.1,1270.5 L2489.2,1283.6 L2495.6,1299.2 L2502.0,1313.3 L2508.8,1327.2 L2515.3,1339.6 L2523.6,1354.3 L2531.9,1367.4 L2540.7,1380.1 L2548.9,1391.5 L2557.2,1402.7 L2565.6,1413.9 L2575.9,1427.3 L2592.0,1443.3 L2602.2,1453.0 L2613.6,1463.4 L2637.3,1478.4 L2638.8,1480.5 L2638.8,1480.5" fill="none" stroke="#abe0f7" stroke-width="3.8" stroke-linejoin="round"/>
<path d="M2164.1,648.9 L2168.3,649.5 L2173.8,650.6 L2187.0,655.2 L2197.4,659.5 L2207.5,664.3 L2217.4,669.6 L2225.7,674.8 L2233.7,680.5 L2242.5,687.5 L2251.9,695.7 L2260.1,703.4 L2267.4,711.9 L2272.8,720.0 L2278.5,729.6 L2284.8,740.6 L2290.8,751.7 L2296.4,763.0 L2301.6,774.4 L2305.8,784.8 L2310.2,796.6 L2314.5,808.5 L2319.7,823.0 L2324.6,836.1 L2329.4,849.2 L2334.2,862.4 L2338.9,875.6 L2343.5,888.3 L2348.2,901.4 L2353.0,914.5 L2357.7,927.7 L2362.5,940.9 L2367.3,954.0 L2372.0,967.2 L2376.8,980.4 L2381.6,993.5 L2386.4,1006.7 L2391.2,1019.8 L2396.0,1033.0 L2401.3,1047.4 L2406.3,1060.5 L2412.1,1074.7 L2416.9,1086.4 L2422.0,1099.4 L2426.5,1111.2 L2431.3,1124.3 L2436.2,1137.5 L2441.0,1150.6 L2445.9,1163.8 L2451.3,1178.2 L2456.2,1191.3 L2461.2,1204.3 L2466.2,1217.4 L2471.3,1230.5 L2476.3,1243.5 L2481.4,1256.6 L2486.4,1269.6 L2491.6,1282.7 L2497.9,1298.2 L2504.2,1312.2 L2510.9,1326.1 L2517.5,1338.5 L2525.7,1353.1 L2533.9,1366.1 L2542.7,1378.8 L2550.9,1390.1 L2559.3,1401.3 L2567.7,1412.4 L2578.0,1425.7 L2593.8,1441.4 L2603.9,1451.1 L2615.2,1461.5 L2638.2,1476.2 L2640.0,1478.6 L2640.0,1478.6" fill="none" stroke="#c3e8f9" stroke-width="3.8" stroke-linejoin="round"/>
<path d="M2164.0,646.5 L2168.7,647.1 L2174.6,648.3 L2187.9,652.9 L2198.3,657.3 L2208.5,662.2 L2218.5,667.5 L2227.1,672.8 L2235.3,678.6 L2244.2,685.7 L2253.7,693.9 L2262.0,701.6 L2269.4,710.2 L2274.9,718.6 L2280.7,728.3 L2286.9,739.4 L2292.9,750.5 L2298.6,761.9 L2303.8,773.4 L2308.1,783.9 L2312.5,795.8 L2316.8,807.7 L2322.0,822.1 L2326.9,835.3 L2331.8,848.4 L2336.5,861.5 L2341.3,874.7 L2345.8,887.5 L2350.5,900.6 L2355.3,913.7 L2360.1,926.9 L2364.8,940.0 L2369.6,953.2 L2374.4,966.4 L2379.1,979.5 L2383.9,992.7 L2388.7,1005.8 L2393.5,1019.0 L2398.3,1032.1 L2403.6,1046.5 L2408.6,1059.6 L2414.4,1073.8 L2419.1,1085.5 L2424.2,1098.6 L2428.8,1110.4 L2433.7,1123.5 L2438.5,1136.7 L2443.3,1149.8 L2448.2,1162.9 L2453.6,1177.3 L2458.5,1190.4 L2463.5,1203.4 L2468.6,1216.5 L2473.6,1229.6 L2478.6,1242.6 L2483.7,1255.7 L2488.8,1268.7 L2493.9,1281.8 L2500.2,1297.2 L2506.4,1311.1 L2513.1,1325.0 L2519.6,1337.3 L2527.7,1351.8 L2536.0,1364.8 L2544.6,1377.4 L2552.9,1388.7 L2561.3,1399.9 L2569.8,1411.0 L2580.0,1424.0 L2595.6,1439.5 L2605.6,1449.2 L2616.8,1459.6 L2639.2,1474.1 L2641.2,1476.7 L2641.2,1476.7" fill="none" stroke="#d9f1fb" stroke-width="3.8" stroke-linejoin="round"/>
<path d="M2163.9,644.1 L2169.1,644.8 L2175.4,646.0 L2188.7,650.6 L2199.2,655.1 L2209.6,660.0 L2219.7,665.5 L2228.4,670.8 L2236.8,676.7 L2245.9,683.8 L2255.6,692.1 L2264.0,699.8 L2271.4,708.6 L2277.0,717.1 L2282.8,727.0 L2289.0,738.1 L2295.1,749.4 L2300.8,760.8 L2306.0,772.4 L2310.3,783.1 L2314.8,795.0 L2319.1,807.0 L2324.3,821.3 L2329.2,834.4 L2334.1,847.5 L2338.9,860.7 L2343.6,873.9 L2348.1,886.7 L2352.8,899.7 L2357.6,912.9 L2362.4,926.0 L2367.2,939.2 L2371.9,952.4 L2376.7,965.5 L2381.4,978.7 L2386.2,991.9 L2391.0,1005.0 L2395.8,1018.2 L2400.6,1031.3 L2405.9,1045.6 L2410.9,1058.7 L2416.6,1072.8 L2421.4,1084.7 L2426.5,1097.7 L2431.1,1109.6 L2436.0,1122.7 L2440.8,1135.8 L2445.7,1149.0 L2450.5,1162.1 L2455.9,1176.4 L2460.9,1189.5 L2465.9,1202.5 L2470.9,1215.6 L2475.9,1228.7 L2481.0,1241.7 L2486.0,1254.8 L2491.1,1267.8 L2496.2,1280.9 L2502.4,1296.1 L2508.6,1310.1 L2515.2,1323.8 L2521.7,1336.2 L2529.8,1350.6 L2538.0,1363.5 L2546.6,1376.0 L2554.9,1387.3 L2563.3,1398.5 L2571.9,1409.5 L2582.1,1422.4 L2597.3,1437.6 L2607.3,1447.3 L2618.5,1457.7 L2640.2,1471.9 L2642.3,1474.8 L2642.3,1474.8" fill="none" stroke="#eff9fe" stroke-width="3.8" stroke-linejoin="round"/>
<path d="M2163.8,641.7 L2169.5,642.4 L2176.2,643.7 L2189.5,648.2 L2200.2,652.9 L2210.6,657.9 L2220.9,663.4 L2229.8,668.9 L2238.4,674.9 L2247.6,682.0 L2257.4,690.2 L2265.9,698.1 L2273.5,706.9 L2279.1,715.7 L2284.9,725.7 L2291.2,736.9 L2297.2,748.2 L2302.9,759.7 L2308.2,771.4 L2312.6,782.2 L2317.1,794.2 L2321.4,806.2 L2326.6,820.5 L2331.6,833.6 L2336.5,846.7 L2341.2,859.8 L2345.9,873.0 L2350.5,885.9 L2355.2,898.9 L2360.0,912.1 L2364.7,925.2 L2369.5,938.4 L2374.2,951.5 L2379.0,964.7 L2383.8,977.9 L2388.5,991.0 L2393.3,1004.2 L2398.1,1017.3 L2402.9,1030.5 L2408.2,1044.7 L2413.2,1057.8 L2418.8,1071.9 L2423.6,1083.8 L2428.8,1096.8 L2433.4,1108.8 L2438.3,1121.9 L2443.1,1135.0 L2448.0,1148.1 L2452.9,1161.3 L2458.2,1175.5 L2463.2,1188.6 L2468.2,1201.6 L2473.2,1214.7 L2478.2,1227.8 L2483.3,1240.8 L2488.3,1253.9 L2493.4,1266.9 L2498.5,1280.0 L2504.7,1295.1 L2510.8,1309.0 L2517.3,1322.7 L2523.9,1335.1 L2531.8,1349.4 L2540.0,1362.2 L2548.6,1374.7 L2556.9,1385.9 L2565.4,1397.0 L2573.9,1408.1 L2584.1,1420.8 L2599.1,1435.7 L2609.1,1445.4 L2620.1,1455.8 L2641.1,1469.8 L2643.5,1473.0 L2643.5,1473.0" fill="none" stroke="#ffffff" stroke-width="3.8" stroke-linejoin="round"/>
<path d="M2163.7,639.2 L2169.9,640.1 L2177.1,641.5 L2190.3,645.9 L2201.1,650.7 L2211.7,655.8 L2222.1,661.3 L2231.2,666.9 L2240.0,673.0 L2249.3,680.2 L2259.2,688.4 L2267.9,696.3 L2275.5,705.2 L2281.2,714.2 L2287.0,724.4 L2293.3,735.7 L2299.4,747.0 L2305.1,758.6 L2310.4,770.4 L2314.8,781.3 L2319.3,793.4 L2323.8,805.5 L2329.0,819.6 L2333.9,832.7 L2338.8,845.8 L2343.6,859.0 L2348.3,872.2 L2352.8,885.0 L2357.5,898.1 L2362.3,911.2 L2367.0,924.4 L2371.8,937.6 L2376.6,950.7 L2381.3,963.9 L2386.1,977.0 L2390.9,990.2 L2395.7,1003.4 L2400.4,1016.5 L2405.3,1029.7 L2410.5,1043.8 L2415.4,1056.9 L2421.1,1070.9 L2425.9,1082.9 L2431.0,1095.9 L2435.7,1107.9 L2440.6,1121.1 L2445.5,1134.2 L2450.3,1147.3 L2455.2,1160.4 L2460.5,1174.6 L2465.5,1187.7 L2470.5,1200.7 L2475.5,1213.8 L2480.6,1226.9 L2485.6,1239.9 L2490.7,1253.0 L2495.7,1266.0 L2500.8,1279.1 L2506.9,1294.1 L2513.0,1307.9 L2519.5,1321.6 L2526.0,1333.9 L2533.9,1348.1 L2542.0,1360.9 L2550.6,1373.3 L2558.9,1384.5 L2567.4,1395.6 L2576.0,1406.6 L2586.2,1419.2 L2600.8,1433.7 L2610.8,1443.6 L2621.8,1453.9 L2642.1,1467.6 L2644.7,1471.1 L2644.7,1471.1" fill="none" stroke="#ffffff" stroke-width="3.8" stroke-linejoin="round"/>
<path d="M2163.6,636.8 L2170.2,637.7 L2177.9,639.2 L2191.1,643.6 L2202.0,648.5 L2212.7,653.7 L2223.3,659.3 L2232.6,664.9 L2241.5,671.1 L2251.0,678.4 L2261.0,686.6 L2269.8,694.5 L2277.6,703.6 L2283.3,712.8 L2289.2,723.1 L2295.5,734.5 L2301.6,745.9 L2307.3,757.5 L2312.6,769.4 L2317.0,780.4 L2321.6,792.5 L2326.1,804.7 L2331.3,818.8 L2336.3,831.9 L2341.2,845.0 L2345.9,858.2 L2350.6,871.3 L2355.2,884.2 L2359.8,897.2 L2364.6,910.4 L2369.4,923.6 L2374.1,936.7 L2378.9,949.9 L2383.7,963.1 L2388.4,976.2 L2393.2,989.4 L2398.0,1002.5 L2402.8,1015.7 L2407.6,1028.9 L2412.8,1043.0 L2417.7,1056.0 L2423.3,1070.0 L2428.1,1082.0 L2433.3,1095.1 L2438.0,1107.1 L2442.9,1120.2 L2447.8,1133.4 L2452.6,1146.5 L2457.5,1159.6 L2462.8,1173.7 L2467.8,1186.8 L2472.8,1199.8 L2477.8,1212.9 L2482.9,1226.0 L2487.9,1239.0 L2493.0,1252.1 L2498.1,1265.1 L2503.2,1278.2 L2509.2,1293.1 L2515.2,1306.8 L2521.6,1320.4 L2528.1,1332.8 L2535.9,1346.9 L2544.0,1359.6 L2552.5,1371.9 L2560.9,1383.2 L2569.4,1394.2 L2578.1,1405.2 L2588.2,1417.6 L2602.6,1431.8 L2612.5,1441.7 L2623.4,1452.0 L2643.1,1465.4 L2645.9,1469.2 L2645.9,1469.2" fill="none" stroke="#ffffff" stroke-width="3.8" stroke-linejoin="round"/>
<path d="M2163.4,634.4 L2170.6,635.4 L2178.7,636.9 L2191.9,641.3 L2202.9,646.3 L2213.8,651.5 L2224.4,657.2 L2233.9,663.0 L2243.1,669.2 L2252.7,676.6 L2262.8,684.7 L2271.8,692.7 L2279.6,701.9 L2285.4,711.3 L2291.3,721.8 L2297.6,733.2 L2303.7,744.7 L2309.5,756.4 L2314.7,768.3 L2319.3,779.5 L2323.9,791.7 L2328.4,803.9 L2333.6,818.0 L2338.6,831.0 L2343.5,844.1 L2348.3,857.3 L2353.0,870.5 L2357.5,883.4 L2362.2,896.4 L2366.9,909.6 L2371.7,922.7 L2376.5,935.9 L2381.2,949.1 L2386.0,962.2 L2390.8,975.4 L2395.5,988.6 L2400.3,1001.7 L2405.1,1014.9 L2409.9,1028.0 L2415.1,1042.1 L2420.0,1055.2 L2425.6,1069.1 L2430.4,1081.2 L2435.6,1094.2 L2440.3,1106.3 L2445.2,1119.4 L2450.1,1132.5 L2455.0,1145.7 L2459.9,1158.8 L2465.1,1172.8 L2470.1,1185.9 L2475.1,1198.9 L2480.2,1212.0 L2485.2,1225.1 L2490.2,1238.1 L2495.3,1251.2 L2500.4,1264.2 L2505.5,1277.3 L2511.5,1292.0 L2517.5,1305.7 L2523.7,1319.3 L2530.3,1331.7 L2538.0,1345.6 L2546.0,1358.3 L2554.5,1370.5 L2562.9,1381.8 L2571.5,1392.8 L2580.2,1403.7 L2590.3,1416.0 L2604.3,1429.9 L2614.2,1439.8 L2625.1,1450.1 L2644.1,1463.3 L2647.0,1467.4 L2647.0,1467.4" fill="none" stroke="#ffffff" stroke-width="3.8" stroke-linejoin="round"/>
<path d="M2163.3,632.0 L2171.0,633.0 L2179.5,634.6 L2192.8,639.0 L2203.9,644.1 L2214.8,649.4 L2225.6,655.1 L2235.3,661.0 L2244.7,667.4 L2254.4,674.8 L2264.6,682.9 L2273.7,690.9 L2281.6,700.2 L2287.5,709.8 L2293.4,720.5 L2299.7,732.0 L2305.9,743.6 L2311.6,755.3 L2316.9,767.3 L2321.5,778.7 L2326.1,790.9 L2330.7,803.2 L2335.9,817.1 L2341.0,830.2 L2345.9,843.3 L2350.7,856.5 L2355.3,869.7 L2359.8,882.6 L2364.5,895.6 L2369.3,908.7 L2374.0,921.9 L2378.8,935.1 L2383.6,948.2 L2388.3,961.4 L2393.1,974.6 L2397.8,987.7 L2402.6,1000.9 L2407.4,1014.1 L2412.2,1027.2 L2417.4,1041.2 L2422.3,1054.3 L2427.8,1068.1 L2432.6,1080.3 L2437.8,1093.3 L2442.6,1105.5 L2447.6,1118.6 L2452.4,1131.7 L2457.3,1144.8 L2462.2,1158.0 L2467.4,1171.9 L2472.4,1185.0 L2477.5,1198.0 L2482.5,1211.1 L2487.5,1224.2 L2492.6,1237.2 L2497.6,1250.3 L2502.7,1263.3 L2507.8,1276.4 L2513.7,1291.0 L2519.7,1304.7 L2525.9,1318.2 L2532.4,1330.6 L2540.0,1344.4 L2548.0,1357.0 L2556.5,1369.2 L2564.9,1380.4 L2573.5,1391.4 L2582.3,1402.2 L2592.4,1414.4 L2606.1,1428.0 L2615.9,1437.9 L2626.7,1448.2 L2645.0,1461.1 L2648.2,1465.5 L2648.2,1465.5" fill="none" stroke="#fffbf8" stroke-width="3.8" stroke-linejoin="round"/>
<path d="M2163.2,629.5 L2171.4,630.7 L2180.3,632.3 L2193.6,636.7 L2204.8,641.8 L2215.9,647.3 L2226.8,653.1 L2236.7,659.0 L2246.2,665.5 L2256.1,672.9 L2266.4,681.1 L2275.7,689.2 L2283.7,698.6 L2289.6,708.4 L2295.5,719.2 L2301.9,730.8 L2308.0,742.4 L2313.8,754.2 L2319.1,766.3 L2323.7,777.8 L2328.4,790.1 L2333.0,802.4 L2338.3,816.3 L2343.3,829.3 L2348.2,842.4 L2353.0,855.6 L2357.7,868.8 L2362.2,881.8 L2366.8,894.8 L2371.6,907.9 L2376.4,921.1 L2381.1,934.2 L2385.9,947.4 L2390.6,960.6 L2395.4,973.7 L2400.2,986.9 L2404.9,1000.1 L2409.7,1013.2 L2414.5,1026.4 L2419.7,1040.3 L2424.6,1053.4 L2430.0,1067.2 L2434.9,1079.4 L2440.1,1092.4 L2444.9,1104.7 L2449.9,1117.8 L2454.8,1130.9 L2459.6,1144.0 L2464.5,1157.1 L2469.8,1171.0 L2474.8,1184.1 L2479.8,1197.1 L2484.8,1210.2 L2489.8,1223.3 L2494.9,1236.3 L2500.0,1249.4 L2505.0,1262.4 L2510.1,1275.5 L2516.0,1290.0 L2521.9,1303.6 L2528.0,1317.0 L2534.5,1329.4 L2542.1,1343.1 L2550.0,1355.7 L2558.5,1367.8 L2566.9,1379.0 L2575.6,1390.0 L2584.4,1400.8 L2594.4,1412.7 L2607.8,1426.1 L2617.7,1436.0 L2628.4,1446.3 L2646.0,1459.0 L2649.4,1463.6 L2649.4,1463.6" fill="none" stroke="#fdf1e5" stroke-width="3.8" stroke-linejoin="round"/>
<path d="M2163.1,627.1 L2171.8,628.3 L2181.1,630.0 L2194.4,634.4 L2205.7,639.6 L2216.9,645.2 L2228.0,651.0 L2238.0,657.1 L2247.8,663.6 L2257.8,671.1 L2268.2,679.3 L2277.6,687.4 L2285.7,696.9 L2291.8,706.9 L2297.7,717.9 L2304.0,729.5 L2310.2,741.2 L2316.0,753.2 L2321.3,765.3 L2326.0,776.9 L2330.7,789.3 L2335.4,801.7 L2340.6,815.5 L2345.6,828.5 L2350.6,841.6 L2355.4,854.8 L2360.0,868.0 L2364.5,880.9 L2369.1,893.9 L2373.9,907.1 L2378.7,920.3 L2383.5,933.4 L2388.2,946.6 L2393.0,959.8 L2397.7,972.9 L2402.5,986.1 L2407.3,999.3 L2412.0,1012.4 L2416.8,1025.6 L2421.9,1039.4 L2426.9,1052.5 L2432.3,1066.2 L2437.2,1078.5 L2442.3,1091.5 L2447.2,1103.9 L2452.2,1117.0 L2457.1,1130.1 L2462.0,1143.2 L2466.9,1156.3 L2472.1,1170.1 L2477.1,1183.2 L2482.1,1196.2 L2487.1,1209.3 L2492.2,1222.4 L2497.2,1235.4 L2502.3,1248.5 L2507.4,1261.5 L2512.5,1274.6 L2518.2,1288.9 L2524.1,1302.5 L2530.1,1315.9 L2536.7,1328.3 L2544.1,1341.9 L2552.0,1354.4 L2560.4,1366.4 L2568.9,1377.6 L2577.6,1388.5 L2586.5,1399.3 L2596.5,1411.1 L2609.6,1424.1 L2619.4,1434.1 L2630.0,1444.3 L2647.0,1456.8 L2650.6,1461.8 L2650.6,1461.8" fill="none" stroke="#fce6d2" stroke-width="3.8" stroke-linejoin="round"/>
<path d="M2163.0,624.7 L2172.2,625.9 L2181.9,627.7 L2195.2,632.1 L2206.6,637.4 L2218.0,643.0 L2229.2,648.9 L2239.4,655.1 L2249.3,661.8 L2259.5,669.3 L2270.0,677.4 L2279.6,685.6 L2287.7,695.2 L2293.9,705.5 L2299.8,716.6 L2306.2,728.3 L2312.4,740.1 L2318.2,752.1 L2323.5,764.3 L2328.2,776.0 L2333.0,788.5 L2337.7,800.9 L2342.9,814.6 L2348.0,827.7 L2352.9,840.7 L2357.7,853.9 L2362.3,867.1 L2366.8,880.1 L2371.5,893.1 L2376.3,906.3 L2381.0,919.4 L2385.8,932.6 L2390.5,945.8 L2395.3,958.9 L2400.1,972.1 L2404.8,985.3 L2409.6,998.4 L2414.4,1011.6 L2419.2,1024.7 L2424.2,1038.5 L2429.1,1051.6 L2434.5,1065.3 L2439.4,1077.7 L2444.6,1090.7 L2449.5,1103.0 L2454.5,1116.1 L2459.4,1129.2 L2464.3,1142.4 L2469.2,1155.5 L2474.4,1169.2 L2479.4,1182.3 L2484.4,1195.3 L2489.4,1208.4 L2494.5,1221.5 L2499.5,1234.5 L2504.6,1247.6 L2509.7,1260.6 L2514.8,1273.7 L2520.5,1287.9 L2526.3,1301.4 L2532.3,1314.8 L2538.8,1327.2 L2546.2,1340.6 L2554.0,1353.1 L2562.4,1365.1 L2570.9,1376.2 L2579.6,1387.1 L2588.6,1397.9 L2598.5,1409.5 L2611.3,1422.2 L2621.1,1432.2 L2631.7,1442.4 L2647.9,1454.7 L2651.7,1459.9 L2651.7,1459.9" fill="none" stroke="#fbdcbf" stroke-width="3.8" stroke-linejoin="round"/>
<path d="M2162.9,622.3 L2172.6,623.6 L2182.8,625.4 L2196.0,629.8 L2207.6,635.2 L2219.0,640.9 L2230.3,646.9 L2240.8,653.1 L2250.9,659.9 L2261.2,667.5 L2271.8,675.6 L2281.5,683.8 L2289.8,693.5 L2296.0,704.0 L2301.9,715.3 L2308.3,727.1 L2314.5,738.9 L2320.4,751.0 L2325.7,763.3 L2330.4,775.1 L2335.2,787.6 L2340.0,800.1 L2345.2,813.8 L2350.3,826.8 L2355.3,839.9 L2360.1,853.1 L2364.7,866.3 L2369.2,879.3 L2373.8,892.3 L2378.6,905.4 L2383.4,918.6 L2388.1,931.8 L2392.9,944.9 L2397.6,958.1 L2402.4,971.3 L2407.1,984.4 L2411.9,997.6 L2416.7,1010.8 L2421.5,1023.9 L2426.5,1037.6 L2431.4,1050.7 L2436.7,1064.3 L2441.7,1076.8 L2446.9,1089.8 L2451.8,1102.2 L2456.8,1115.3 L2461.7,1128.4 L2466.6,1141.5 L2471.5,1154.7 L2476.7,1168.3 L2481.7,1181.4 L2486.7,1194.4 L2491.8,1207.5 L2496.8,1220.6 L2501.9,1233.6 L2506.9,1246.7 L2512.0,1259.7 L2517.1,1272.8 L2522.8,1286.9 L2528.5,1300.3 L2534.4,1313.7 L2540.9,1326.0 L2548.2,1339.4 L2556.0,1351.8 L2564.4,1363.7 L2572.9,1374.8 L2581.7,1385.7 L2590.6,1396.4 L2600.6,1407.9 L2613.1,1420.3 L2622.8,1430.4 L2633.3,1440.5 L2648.9,1452.5 L2652.9,1458.0 L2652.9,1458.0" fill="none" stroke="#f9cca5" stroke-width="3.8" stroke-linejoin="round"/>
<path d="M2162.8,619.9 L2173.0,621.2 L2183.6,623.1 L2196.8,627.5 L2208.5,633.0 L2220.1,638.8 L2231.5,644.8 L2242.2,651.1 L2252.5,658.0 L2262.9,665.7 L2273.6,673.8 L2283.5,682.0 L2291.8,691.9 L2298.1,702.6 L2304.0,714.0 L2310.4,725.8 L2316.7,737.8 L2322.5,749.9 L2327.9,762.2 L2332.7,774.2 L2337.5,786.8 L2342.3,799.4 L2347.6,812.9 L2352.7,826.0 L2357.7,839.1 L2362.4,852.2 L2367.0,865.4 L2371.5,878.5 L2376.1,891.5 L2380.9,904.6 L2385.7,917.8 L2390.4,930.9 L2395.2,944.1 L2400.0,957.3 L2404.7,970.4 L2409.5,983.6 L2414.2,996.8 L2419.0,1009.9 L2423.8,1023.1 L2428.8,1036.7 L2433.7,1049.9 L2439.0,1063.4 L2443.9,1075.9 L2449.1,1088.9 L2454.1,1101.4 L2459.1,1114.5 L2464.0,1127.6 L2468.9,1140.7 L2473.8,1153.8 L2479.0,1167.4 L2484.0,1180.5 L2489.0,1193.6 L2494.1,1206.6 L2499.1,1219.7 L2504.2,1232.7 L2509.2,1245.8 L2514.3,1258.8 L2519.4,1271.9 L2525.0,1285.9 L2530.7,1299.2 L2536.6,1312.5 L2543.1,1324.9 L2550.3,1338.2 L2558.0,1350.5 L2566.4,1362.3 L2574.9,1373.4 L2583.7,1384.3 L2592.7,1395.0 L2602.6,1406.3 L2614.9,1418.4 L2624.6,1428.5 L2635.0,1438.6 L2649.9,1450.4 L2654.1,1456.1 L2654.1,1456.1" fill="none" stroke="#f6bd8a" stroke-width="3.8" stroke-linejoin="round"/>
<path d="M2162.7,617.4 L2173.3,618.9 L2184.4,620.8 L2197.7,625.2 L2209.4,630.8 L2221.1,636.7 L2232.7,642.8 L2243.5,649.2 L2254.0,656.1 L2264.6,663.8 L2275.4,671.9 L2285.4,680.3 L2293.9,690.2 L2300.2,701.1 L2306.2,712.7 L2312.6,724.6 L2318.8,736.6 L2324.7,748.8 L2330.1,761.2 L2334.9,773.4 L2339.8,786.0 L2344.6,798.6 L2349.9,812.1 L2355.0,825.1 L2360.0,838.2 L2364.8,851.4 L2369.4,864.6 L2373.9,877.7 L2378.5,890.6 L2383.3,903.8 L2388.0,916.9 L2392.8,930.1 L2397.5,943.3 L2402.3,956.5 L2407.0,969.6 L2411.8,982.8 L2416.6,996.0 L2421.3,1009.1 L2426.1,1022.3 L2431.1,1035.8 L2436.0,1049.0 L2441.2,1062.5 L2446.2,1075.0 L2451.4,1088.0 L2456.5,1100.6 L2461.4,1113.7 L2466.4,1126.8 L2471.3,1139.9 L2476.2,1153.0 L2481.3,1166.5 L2486.3,1179.6 L2491.4,1192.7 L2496.4,1205.7 L2501.4,1218.8 L2506.5,1231.8 L2511.6,1244.9 L2516.6,1257.9 L2521.8,1271.0 L2527.3,1284.8 L2532.9,1298.2 L2538.7,1311.4 L2545.2,1323.8 L2552.3,1336.9 L2560.0,1349.2 L2568.3,1361.0 L2576.9,1372.1 L2585.7,1382.9 L2594.8,1393.5 L2604.7,1404.7 L2616.6,1416.5 L2626.3,1426.6 L2636.6,1436.7 L2650.8,1448.2 L2655.3,1454.3 L2655.3,1454.3" fill="none" stroke="#f4ae6f" stroke-width="3.8" stroke-linejoin="round"/>
<path d="M2162.6,615.0 L2173.7,616.5 L2185.2,618.5 L2198.5,622.9 L2210.4,628.6 L2222.2,634.6 L2233.9,640.7 L2244.9,647.2 L2255.6,654.3 L2266.3,662.0 L2277.2,670.1 L2287.4,678.5 L2295.9,688.5 L2302.3,699.6 L2308.3,711.4 L2314.7,723.4 L2321.0,735.4 L2326.9,747.7 L2332.3,760.2 L2337.2,772.5 L2342.0,785.2 L2346.9,797.9 L2352.2,811.3 L2357.4,824.3 L2362.4,837.4 L2367.1,850.5 L2371.7,863.7 L2376.2,876.9 L2380.8,889.8 L2385.6,903.0 L2390.4,916.1 L2395.1,929.3 L2399.9,942.5 L2404.6,955.6 L2409.4,968.8 L2414.1,982.0 L2418.9,995.1 L2423.6,1008.3 L2428.4,1021.4 L2433.4,1035.0 L2438.3,1048.1 L2443.4,1061.5 L2448.4,1074.2 L2453.7,1087.1 L2458.8,1099.8 L2463.8,1112.8 L2468.7,1126.0 L2473.6,1139.1 L2478.5,1152.2 L2483.6,1165.6 L2488.7,1178.7 L2493.7,1191.8 L2498.7,1204.8 L2503.8,1217.9 L2508.8,1230.9 L2513.9,1244.0 L2519.0,1257.0 L2524.1,1270.1 L2529.5,1283.8 L2535.1,1297.1 L2540.8,1310.3 L2547.3,1322.7 L2554.4,1335.7 L2562.0,1347.9 L2570.3,1359.6 L2578.9,1370.7 L2587.8,1381.5 L2596.9,1392.1 L2606.7,1403.1 L2618.4,1414.6 L2628.0,1424.7 L2638.2,1434.8 L2651.8,1446.1 L2656.4,1452.4 L2656.4,1452.4" fill="none" stroke="#f29f55" stroke-width="3.8" stroke-linejoin="round"/>
<path d="M2162.5,612.6 L2174.1,614.2 L2186.0,616.2 L2199.3,620.6 L2211.3,626.4 L2223.2,632.4 L2235.0,638.6 L2246.3,645.2 L2257.2,652.4 L2268.0,660.2 L2279.0,668.3 L2289.3,676.7 L2297.9,686.9 L2304.4,698.2 L2310.4,710.1 L2316.9,722.2 L2323.2,734.3 L2329.1,746.6 L2334.5,759.2 L2339.4,771.6 L2344.3,784.4 L2349.3,797.1 L2354.5,810.4 L2359.7,823.4 L2364.7,836.5 L2369.5,849.7 L2374.0,862.9 L2378.5,876.0 L2383.1,889.0 L2387.9,902.1 L2392.7,915.3 L2397.4,928.5 L2402.2,941.6 L2406.9,954.8 L2411.7,968.0 L2416.4,981.1 L2421.2,994.3 L2426.0,1007.5 L2430.8,1020.6 L2435.7,1034.1 L2440.5,1047.2 L2445.7,1060.6 L2450.7,1073.3 L2455.9,1086.3 L2461.1,1099.0 L2466.1,1112.0 L2471.0,1125.1 L2475.9,1138.2 L2480.8,1151.3 L2485.9,1164.7 L2491.0,1177.8 L2496.0,1190.9 L2501.0,1203.9 L2506.1,1217.0 L2511.1,1230.0 L2516.2,1243.1 L2521.3,1256.1 L2526.4,1269.2 L2531.8,1282.8 L2537.3,1296.0 L2543.0,1309.1 L2549.5,1321.5 L2556.4,1334.4 L2564.0,1346.6 L2572.3,1358.2 L2580.9,1369.3 L2589.8,1380.0 L2599.0,1390.6 L2608.8,1401.5 L2620.1,1412.6 L2629.7,1422.8 L2639.9,1432.9 L2652.8,1443.9 L2657.6,1450.5 L2657.6,1450.5" fill="none" stroke="#ef9144" stroke-width="3.8" stroke-linejoin="round"/>
<path d="M2162.4,610.2 L2174.5,611.8 L2186.8,613.9 L2200.1,618.3 L2212.2,624.2 L2224.3,630.3 L2236.2,636.6 L2247.6,643.3 L2258.7,650.5 L2269.7,658.4 L2280.8,666.5 L2291.3,674.9 L2300.0,685.2 L2306.5,696.7 L2312.5,708.8 L2319.0,720.9 L2325.3,733.1 L2331.2,745.5 L2336.7,758.2 L2341.6,770.7 L2346.6,783.6 L2351.6,796.4 L2356.9,809.6 L2362.0,822.6 L2367.1,835.7 L2371.8,848.8 L2376.4,862.1 L2380.9,875.2 L2385.5,888.1 L2390.3,901.3 L2395.0,914.5 L2399.8,927.6 L2404.5,940.8 L2409.3,954.0 L2414.0,967.1 L2418.8,980.3 L2423.5,993.5 L2428.3,1006.6 L2433.1,1019.8 L2438.0,1033.2 L2442.8,1046.3 L2447.9,1059.6 L2452.9,1072.4 L2458.2,1085.4 L2463.4,1098.1 L2468.4,1111.2 L2473.3,1124.3 L2478.2,1137.4 L2483.2,1150.5 L2488.3,1163.8 L2493.3,1176.9 L2498.3,1190.0 L2503.4,1203.0 L2508.4,1216.1 L2513.5,1229.1 L2518.5,1242.2 L2523.6,1255.2 L2528.7,1268.3 L2534.1,1281.7 L2539.5,1294.9 L2545.1,1308.0 L2551.6,1320.4 L2558.5,1333.2 L2566.0,1345.3 L2574.3,1356.9 L2582.9,1367.9 L2591.9,1378.6 L2601.1,1389.1 L2610.8,1399.8 L2621.9,1410.7 L2631.4,1420.9 L2641.5,1431.0 L2653.8,1441.8 L2658.8,1448.6 L2658.8,1448.6" fill="none" stroke="#ec8432" stroke-width="3.8" stroke-linejoin="round"/>
<path d="M2162.3,607.8 L2174.9,609.5 L2187.7,611.6 L2200.9,616.0 L2213.1,622.0 L2225.3,628.2 L2237.4,634.5 L2249.0,641.3 L2260.3,648.7 L2271.4,656.6 L2282.6,664.6 L2293.2,673.1 L2302.0,683.5 L2308.6,695.3 L2314.7,707.5 L2321.1,719.7 L2327.5,732.0 L2333.4,744.4 L2338.8,757.2 L2343.9,769.8 L2348.8,782.7 L2353.9,795.6 L2359.2,808.8 L2364.4,821.7 L2369.4,834.8 L2374.2,848.0 L2378.7,861.2 L2383.2,874.4 L2387.8,887.3 L2392.6,900.5 L2397.4,913.6 L2402.1,926.8 L2406.8,940.0 L2411.6,953.2 L2416.3,966.3 L2421.1,979.5 L2425.8,992.7 L2430.6,1005.8 L2435.4,1019.0 L2440.3,1032.3 L2445.1,1045.4 L2450.1,1058.7 L2455.2,1071.6 L2460.5,1084.5 L2465.7,1097.3 L2470.7,1110.4 L2475.7,1123.5 L2480.6,1136.6 L2485.5,1149.7 L2490.6,1162.9 L2495.6,1176.0 L2500.6,1189.1 L2505.7,1202.1 L2510.7,1215.2 L2515.8,1228.2 L2520.9,1241.3 L2525.9,1254.3 L2531.0,1267.4 L2536.3,1280.7 L2541.7,1293.8 L2547.2,1306.9 L2553.7,1319.3 L2560.5,1331.9 L2568.0,1344.0 L2576.2,1355.5 L2584.9,1366.5 L2593.9,1377.2 L2603.2,1387.7 L2612.9,1398.2 L2623.6,1408.8 L2633.2,1419.0 L2643.2,1429.1 L2654.7,1439.6 L2660.0,1446.8 L2660.0,1446.8" fill="none" stroke="#ea7621" stroke-width="3.8" stroke-linejoin="round"/>
<path d="M2162.2,605.3 L2175.3,607.1 L2188.5,609.3 L2201.7,613.7 L2214.1,619.8 L2226.4,626.1 L2238.6,632.4 L2250.4,639.3 L2261.8,646.8 L2273.1,654.8 L2284.4,662.8 L2295.2,671.4 L2304.1,681.9 L2310.7,693.8 L2316.8,706.2 L2323.3,718.5 L2329.6,730.8 L2335.6,743.4 L2341.0,756.1 L2346.1,769.0 L2351.1,781.9 L2356.2,794.8 L2361.5,807.9 L2366.7,820.9 L2371.8,834.0 L2376.5,847.1 L2381.1,860.4 L2385.6,873.6 L2390.1,886.5 L2394.9,899.6 L2399.7,912.8 L2404.4,926.0 L2409.2,939.2 L2413.9,952.3 L2418.7,965.5 L2423.4,978.7 L2428.2,991.8 L2432.9,1005.0 L2437.7,1018.2 L2442.5,1031.4 L2447.4,1044.5 L2452.4,1057.7 L2457.4,1070.7 L2462.7,1083.6 L2468.0,1096.5 L2473.0,1109.6 L2478.0,1122.7 L2482.9,1135.8 L2487.8,1148.9 L2492.9,1162.0 L2497.9,1175.1 L2503.0,1188.2 L2508.0,1201.2 L2513.1,1214.3 L2518.1,1227.3 L2523.2,1240.4 L2528.3,1253.4 L2533.4,1266.5 L2538.6,1279.7 L2543.9,1292.8 L2549.4,1305.7 L2555.8,1318.2 L2562.6,1330.7 L2570.0,1342.7 L2578.2,1354.1 L2586.9,1365.1 L2595.9,1375.8 L2605.2,1386.2 L2614.9,1396.6 L2625.4,1406.9 L2634.9,1417.2 L2644.8,1427.2 L2655.7,1437.5 L2661.1,1444.9 L2661.1,1444.9" fill="none" stroke="#e76d17" stroke-width="3.8" stroke-linejoin="round"/>
<path d="M2162.1,602.9 L2175.7,604.8 L2189.3,607.0 L2202.5,611.4 L2215.0,617.6 L2227.4,623.9 L2239.8,630.4 L2251.8,637.3 L2263.4,644.9 L2274.8,652.9 L2286.2,661.0 L2297.1,669.6 L2306.1,680.2 L2312.8,692.4 L2318.9,704.9 L2325.4,717.2 L2331.8,729.7 L2337.8,742.3 L2343.2,755.1 L2348.3,768.1 L2353.4,781.1 L2358.5,794.1 L2363.8,807.1 L2369.1,820.1 L2374.1,833.1 L2378.9,846.3 L2383.4,859.5 L2387.9,872.8 L2392.5,885.7 L2397.3,898.8 L2402.0,912.0 L2406.8,925.2 L2411.5,938.3 L2416.2,951.5 L2421.0,964.7 L2425.7,977.8 L2430.5,991.0 L2435.2,1004.2 L2440.0,1017.3 L2444.8,1030.5 L2449.7,1043.7 L2454.6,1056.8 L2459.7,1069.8 L2465.0,1082.8 L2470.3,1095.7 L2475.3,1108.7 L2480.3,1121.8 L2485.2,1134.9 L2490.2,1148.0 L2495.2,1161.1 L2500.2,1174.2 L2505.3,1187.3 L2510.3,1200.3 L2515.4,1213.4 L2520.4,1226.4 L2525.5,1239.5 L2530.6,1252.5 L2535.7,1265.6 L2540.8,1278.7 L2546.1,1291.7 L2551.5,1304.6 L2558.0,1317.0 L2564.6,1329.4 L2572.0,1341.4 L2580.2,1352.8 L2588.9,1363.7 L2598.0,1374.4 L2607.3,1384.8 L2617.0,1395.0 L2627.1,1405.0 L2636.6,1415.3 L2646.5,1425.3 L2656.7,1435.3 L2662.3,1443.0 L2662.3,1443.0" fill="none" stroke="#e46510" stroke-width="3.8" stroke-linejoin="round"/>
<path d="M2080,602 L2178,602 L2178,669.5 L2080,669.5 Q2072,669.5 2072,661 L2072,610 Q2072,602 2080,602 Z" fill="url(#gPipeBox)"/>
<g transform="translate(2241.3,1444.4) rotate(30.7)">
<rect x="-273.5" y="-50.85" width="547" height="101.7" rx="22" ry="22" fill="#fff" fill-opacity="0.72"/>
<path d="M-255.0,-50.85 L-225.4,50.85 M-230.6,-50.85 L-201.0,50.85 M-206.2,-50.85 L-176.6,50.85 M-181.8,-50.85 L-152.2,50.85 M-157.4,-50.85 L-127.8,50.85 M-133.0,-50.85 L-103.4,50.85 M-108.6,-50.85 L-79.0,50.85 M-84.2,-50.85 L-54.6,50.85 M-59.8,-50.85 L-30.2,50.85 M-35.4,-50.85 L-5.8,50.85 M-11.0,-50.85 L18.6,50.85 M13.4,-50.85 L43.0,50.85 M37.8,-50.85 L67.4,50.85 M62.2,-50.85 L91.8,50.85 M86.6,-50.85 L116.2,50.85 M111.0,-50.85 L140.6,50.85 M135.4,-50.85 L165.0,50.85 M159.8,-50.85 L189.4,50.85 M184.2,-50.85 L213.8,50.85 M208.6,-50.85 L238.2,50.85 M233.0,-50.85 L262.6,50.85 M257.4,-50.85 L287.0,50.85" stroke="#3e3a39" stroke-width="3.9" fill="none" clip-path="url(#cHeat)"/>
<rect x="-273.5" y="-50.85" width="547" height="101.7" rx="22" ry="22" fill="none" stroke="#3e3a39" stroke-width="9"/>
</g>
<rect x="1742.0" y="646.0" width="47.0" height="50.0" fill="#fff"/><path d="M1692.0,696.0 L1742.0,646.0 M1701.6,696.0 L1751.6,646.0 M1711.2,696.0 L1761.2,646.0 M1720.8,696.0 L1770.8,646.0 M1730.4,696.0 L1780.4,646.0 M1740.0,696.0 L1790.0,646.0 M1749.6,696.0 L1799.6,646.0 M1759.2,696.0 L1809.2,646.0 M1768.8,696.0 L1818.8,646.0 M1778.4,696.0 L1828.4,646.0 M1788.0,696.0 L1838.0,646.0 M1797.6,696.0 L1847.6,646.0 M1807.2,696.0 L1857.2,646.0 M1816.8,696.0 L1866.8,646.0 M1826.4,696.0 L1876.4,646.0 M1836.0,696.0 L1886.0,646.0" stroke="#231815" stroke-width="3.2" clip-path="url(#h1)" fill="none"/><rect x="1742.0" y="646.0" width="47.0" height="50.0" fill="none" stroke="#231815" stroke-width="3.5"/>
<rect x="1866.0" y="678.5" width="46.0" height="45.0" fill="#fff"/><path d="M1821.0,723.5 L1866.0,678.5 M1830.6,723.5 L1875.6,678.5 M1840.2,723.5 L1885.2,678.5 M1849.8,723.5 L1894.8,678.5 M1859.4,723.5 L1904.4,678.5 M1869.0,723.5 L1914.0,678.5 M1878.6,723.5 L1923.6,678.5 M1888.2,723.5 L1933.2,678.5 M1897.8,723.5 L1942.8,678.5 M1907.4,723.5 L1952.4,678.5 M1917.0,723.5 L1962.0,678.5 M1926.6,723.5 L1971.6,678.5 M1936.2,723.5 L1981.2,678.5 M1945.8,723.5 L1990.8,678.5 M1955.4,723.5 L2000.4,678.5" stroke="#231815" stroke-width="3.2" clip-path="url(#h2)" fill="none"/><rect x="1866.0" y="678.5" width="46.0" height="45.0" fill="none" stroke="#231815" stroke-width="3.5"/>
<rect x="2184.0" y="749.5" width="46.0" height="47.0" fill="#fff"/><path d="M2137.0,796.5 L2184.0,749.5 M2146.6,796.5 L2193.6,749.5 M2156.2,796.5 L2203.2,749.5 M2165.8,796.5 L2212.8,749.5 M2175.4,796.5 L2222.4,749.5 M2185.0,796.5 L2232.0,749.5 M2194.6,796.5 L2241.6,749.5 M2204.2,796.5 L2251.2,749.5 M2213.8,796.5 L2260.8,749.5 M2223.4,796.5 L2270.4,749.5 M2233.0,796.5 L2280.0,749.5 M2242.6,796.5 L2289.6,749.5 M2252.2,796.5 L2299.2,749.5 M2261.8,796.5 L2308.8,749.5 M2271.4,796.5 L2318.4,749.5" stroke="#231815" stroke-width="3.2" clip-path="url(#h3)" fill="none"/><rect x="2184.0" y="749.5" width="46.0" height="47.0" fill="none" stroke="#231815" stroke-width="3.5"/>
<path d="M1648,318.8 L1675.3,318.8 Q1712,287 1741.3,286.8 L1813.6,286.8 L1846.1,361.3 L1829,527.6 L1781,560 L1772.3,600 L1767.8,635.3 L1740.7,635.3 L1731.6,694 L1748.8,696.7 L1738,788.6 L1730,788.6" fill="none" stroke="#3e3a39" stroke-width="11" stroke-linejoin="miter" stroke-linecap="butt" />
<path d="M1846.1,361.3 L1893.2,351.3" fill="none" stroke="#3e3a39" stroke-width="11" stroke-linejoin="miter" stroke-linecap="butt" />
<path d="M2051.5,326.5 L2214.3,333.2" fill="none" stroke="#3e3a39" stroke-width="11" stroke-linejoin="miter" stroke-linecap="butt" />
<path d="M2486.4,353.2 C2499.5,353.6 2539.9,353.6 2565.1,355.9 C2590.3,358.2 2616.3,362.6 2637.4,366.8 C2658.5,371.0 2675.4,376.0 2691.7,381.3 C2708.0,386.6 2720.5,391.2 2735.0,398.5 C2749.5,405.8 2765.6,416.8 2778.9,425.2 C2792.2,433.6 2805.4,441.8 2815.1,448.7 C2824.8,455.6 2830.8,460.8 2836.8,466.8 C2842.8,472.8 2848.8,481.9 2851.2,484.9" fill="none" stroke="#3e3a39" stroke-width="11.5" stroke-linejoin="miter" stroke-linecap="butt" />
<path d="M1736,1498.5 L1750,1498.5 L1750,1521 L1772,1521 L1822,1548 L2319,1677.5 L2457.5,1678 L2499,1600 L2527,1549 Q2537,1532 2521,1511 L2493,1479 Q2474,1467 2466,1452 L2429,1380 L2400,1318 Q2394,1303 2380,1296 L2240,1230 Q2216,1219 2229,1201 L2236.5,1192 L2236.5,1174 L2253.7,1174 L2245.6,1111 L2209.3,1111.6 L2209.1,1010.1 L2223.6,1010.1 L2250,930 Q2255,912 2246,901 L2212.7,860 L2174.8,802.4 L2234.4,809.7 L2238,721" fill="none" stroke="#3e3a39" stroke-width="11" stroke-linejoin="miter" stroke-linecap="butt" />
<path d="M2693.5,740 L2693.5,708 L2729.7,708 Q2770,706 2795,681" fill="none" stroke="#3e3a39" stroke-width="11" stroke-linejoin="miter" stroke-linecap="butt" />
<path d="M1842.5,446.3 L2066.9,446.3 L2204.3,356.7 L2204.3,331" fill="none" stroke="#3e3a39" stroke-width="7" stroke-linejoin="miter" stroke-linecap="butt" />
<path d="M2197,449 L1873.6,645.2 L1874.5,678" fill="none" stroke="#3e3a39" stroke-width="8" stroke-linejoin="miter" stroke-linecap="butt" />
<path d="M1922.4,641.6 L1906.1,739.2" fill="none" stroke="#3e3a39" stroke-width="7" stroke-linejoin="miter" stroke-linecap="butt" />
<path d="M1908,728.5 L1859,725 L1859,739 L1843,754 L1825,747 L1803,812 L1812,816 L1800,868" fill="none" stroke="#3e3a39" stroke-width="8" stroke-linejoin="miter" stroke-linecap="butt" />
<path d="M1788.6,896.6 L1788.6,867.6 L1813.9,867.6 L1813.9,877.6 L1841,875.8 L1841,862.2 L1867.3,862.2 L1867.3,889.3" fill="none" stroke="#3e3a39" stroke-width="8" stroke-linejoin="miter" stroke-linecap="butt" />
<path d="M1795,883.9 L1862.7,879.4 M1795.8,896.6 L1863.7,891.1" fill="none" stroke="#231815" stroke-width="4" stroke-linejoin="miter" stroke-linecap="butt" />
<path d="M2197.4,701.2 L2197.4,748" fill="none" stroke="#3e3a39" stroke-width="7" stroke-linejoin="miter" stroke-linecap="butt" />
<path d="M2207.3,975.7 L2223.6,986.6" fill="none" stroke="#3e3a39" stroke-width="8" stroke-linejoin="miter" stroke-linecap="butt" />
<path d="M2213.7,1070.7 L2317.6,1115 L2308.6,1141.2 L2250.7,1122.2" fill="none" stroke="#3e3a39" stroke-width="8" stroke-linejoin="miter" stroke-linecap="butt" />
<path d="M2213.7,1086 L2308.6,1122.2" fill="none" stroke="#3e3a39" stroke-width="4" stroke-linejoin="miter" stroke-linecap="butt" />
<path d="M1829.6,1224.7 L1829.6,1250 L1874.8,1248.2 L1874.8,1232.8 L1903.7,1231 L1903.7,1212 L1926.3,1211.1 L1958,1172.2 L1958,1156 L1968.8,1155 L1968.8,1139.7 L1985.1,1138.8" fill="none" stroke="#3e3a39" stroke-width="8" stroke-linejoin="miter" stroke-linecap="butt" />
<path d="M1960.7,1159.6 L1963.4,1212.9 L1983.3,1212.9 L1983.3,1228.3 L1999.5,1228.3 L1999.5,1260.8 L2010.4,1266.3 L1986.9,1313.3 L1969.7,1313.3 L1958.5,1336" fill="none" stroke="#3e3a39" stroke-width="8" stroke-linejoin="miter" stroke-linecap="butt" />
<path d="M1892.9,1233.7 L1898.3,1288" fill="none" stroke="#3e3a39" stroke-width="8" stroke-linejoin="miter" stroke-linecap="butt" />
<path d="M1894.7,1293.4 L1907.3,1265.4 L1967.9,1301.5 L1955,1336" fill="none" stroke="#3e3a39" stroke-width="8" stroke-linejoin="miter" stroke-linecap="butt" />
<circle cx="1954.3" cy="1253.6" r="24.2" fill="none" stroke="#3e3a39" stroke-width="4"/>
<circle cx="1954.3" cy="1253.6" r="15.2" fill="none" stroke="#3e3a39" stroke-width="3.5"/>
<circle cx="1954.3" cy="1253.6" r="7.0" fill="none" stroke="#3e3a39" stroke-width="3"/>
<path d="M1954.3,1238.4 v8 M1954.3,1260.8 v8 M1939.1,1253.6 h8 M1961.5,1253.6 h8" fill="none" stroke="#3e3a39" stroke-width="3" stroke-linejoin="miter" stroke-linecap="butt" />
<path d="M1831.5,746.5 L2231.7,918.8 L2204.8,981.3 L1804.6,809.0 Z" fill="none" stroke="#231815" stroke-width="4" stroke-linejoin="miter" stroke-linecap="butt" /><path d="M1844.4,752.0 L1817.5,814.5 M1860.0,758.8 L1833.1,821.2 M2215.4,911.8 L2188.5,974.3" fill="none" stroke="#231815" stroke-width="4" stroke-linejoin="miter" stroke-linecap="butt" /><path d="M1919.8,776.5 L1888.8,856.7" fill="none" stroke="#231815" stroke-width="4" stroke-linejoin="miter" stroke-linecap="butt" /><circle cx="1903.6" cy="816.0" r="6.3" fill="#fff" stroke="#231815" stroke-width="3.5"/><path d="M2001.3,812.8 L1970.3,893.0" fill="none" stroke="#231815" stroke-width="4" stroke-linejoin="miter" stroke-linecap="butt" /><circle cx="1985.1" cy="852.3" r="6.3" fill="#fff" stroke="#231815" stroke-width="3.5"/><path d="M2082.8,849.1 L2051.8,929.3" fill="none" stroke="#231815" stroke-width="4" stroke-linejoin="miter" stroke-linecap="butt" /><circle cx="2066.6" cy="888.6" r="6.3" fill="#fff" stroke="#231815" stroke-width="3.5"/><path d="M2164.3,885.4 L2133.3,965.6" fill="none" stroke="#231815" stroke-width="4" stroke-linejoin="miter" stroke-linecap="butt" /><circle cx="2148.1" cy="924.9" r="6.3" fill="#fff" stroke="#231815" stroke-width="3.5"/>
<path d="M1914.6,672.3 L2193.1,730.2 L2179.7,794.8 L1901.2,736.9 Z" fill="none" stroke="#231815" stroke-width="4" stroke-linejoin="miter" stroke-linecap="butt" /><path d="M1969.8,675.5 L1954.3,759.5" fill="none" stroke="#231815" stroke-width="4" stroke-linejoin="miter" stroke-linecap="butt" /><circle cx="1962.0" cy="717.5" r="6.3" fill="#fff" stroke="#231815" stroke-width="3.5"/><path d="M2059.3,695.4 L2043.8,779.4" fill="none" stroke="#231815" stroke-width="4" stroke-linejoin="miter" stroke-linecap="butt" /><circle cx="2051.5" cy="737.4" r="6.3" fill="#fff" stroke="#231815" stroke-width="3.5"/><path d="M2148.8,715.3 L2133.3,799.3" fill="none" stroke="#231815" stroke-width="4" stroke-linejoin="miter" stroke-linecap="butt" /><circle cx="2141.0" cy="757.3" r="6.3" fill="#fff" stroke="#231815" stroke-width="3.5"/>
<path d="M1975.1,1145.1 L2241.0,1109.5 L2250.0,1176.9 L1984.1,1212.5 Z" fill="none" stroke="#231815" stroke-width="4" stroke-linejoin="miter" stroke-linecap="butt" /><path d="M1991.0,1143.0 L2000.0,1210.4 M2212.0,1113.4 L2221.0,1180.8 M2225.9,1111.5 L2234.9,1178.9" fill="none" stroke="#231815" stroke-width="4" stroke-linejoin="miter" stroke-linecap="butt" /><path d="M2014.9,1138.8 L2067.4,1211.1" fill="none" stroke="#231815" stroke-width="4" stroke-linejoin="miter" stroke-linecap="butt" /><circle cx="2039.3" cy="1174.9" r="6.3" fill="#fff" stroke="#231815" stroke-width="3.5"/><path d="M2076.4,1127.9 L2129.7,1199.3" fill="none" stroke="#231815" stroke-width="4" stroke-linejoin="miter" stroke-linecap="butt" /><circle cx="2103.5" cy="1164.1" r="6.3" fill="#fff" stroke="#231815" stroke-width="3.5"/><path d="M2138.9,1118.1 L2191.3,1188.6" fill="none" stroke="#231815" stroke-width="4" stroke-linejoin="miter" stroke-linecap="butt" /><circle cx="2167.8" cy="1154.2" r="6.3" fill="#fff" stroke="#231815" stroke-width="3.5"/>
<path d="M1866.5,889.0 L1899.5,1222.0 L1830.3,1228.9 L1797.3,895.9 Z" fill="none" stroke="#231815" stroke-width="4" stroke-linejoin="miter" stroke-linecap="butt" /><path d="M1897.9,1205.4 L1828.7,1212.3" fill="none" stroke="#231815" stroke-width="4" stroke-linejoin="miter" stroke-linecap="butt" /><path d="M1876.7,923.7 L1797.1,981.6" fill="none" stroke="#231815" stroke-width="4" stroke-linejoin="miter" stroke-linecap="butt" /><circle cx="1835.1" cy="954.4" r="6.3" fill="#fff" stroke="#231815" stroke-width="3.5"/><path d="M1887.5,1021.3 L1808.0,1081.0" fill="none" stroke="#231815" stroke-width="4" stroke-linejoin="miter" stroke-linecap="butt" /><circle cx="1847.0" cy="1052.8" r="6.3" fill="#fff" stroke="#231815" stroke-width="3.5"/><path d="M1898.3,1122.5 L1819.6,1181.3" fill="none" stroke="#231815" stroke-width="4" stroke-linejoin="miter" stroke-linecap="butt" /><circle cx="1859.4" cy="1152.3" r="6.3" fill="#fff" stroke="#231815" stroke-width="3.5"/>
<path d="M1956.5,1331.0 L1836.0,1533.0 L1775.5,1496.9 L1896.0,1294.9 Z" fill="none" stroke="#231815" stroke-width="4" stroke-linejoin="miter" stroke-linecap="butt" /><path d="M1841.7,1523.4 L1781.2,1487.3" fill="none" stroke="#231815" stroke-width="4" stroke-linejoin="miter" stroke-linecap="butt" /><path d="M1853.2,1346.5 L1941.8,1346.5" fill="none" stroke="#231815" stroke-width="4" stroke-linejoin="miter" stroke-linecap="butt" /><circle cx="1900.2" cy="1346.5" r="6.3" fill="#fff" stroke="#231815" stroke-width="3.5"/><path d="M1821.3,1404.9 L1910.3,1404.9" fill="none" stroke="#231815" stroke-width="4" stroke-linejoin="miter" stroke-linecap="butt" /><circle cx="1866.5" cy="1404.9" r="6.3" fill="#fff" stroke="#231815" stroke-width="3.5"/><path d="M1789.9,1462.7 L1878.5,1462.7" fill="none" stroke="#231815" stroke-width="4" stroke-linejoin="miter" stroke-linecap="butt" /><circle cx="1833.3" cy="1463.0" r="6.3" fill="#fff" stroke="#231815" stroke-width="3.5"/>
<path d="M1900.1,1284.3 L1961.6,1320.5" fill="none" stroke="#231815" stroke-width="4" stroke-linejoin="miter" stroke-linecap="butt" />
<path d="M1790,302 L1802.7,302 L1828,369.4 L1820.8,442.6 L1803.6,442.6 L1744.9,502.3 L1708.7,483.3" fill="none" stroke="#3e3a39" stroke-width="3.6" stroke-linejoin="miter" stroke-linecap="butt" />
<path d="M1918.5,336.9 L1909.5,372.5 M1948.6,330.2 L1940.5,365.0 M1978.9,323.4 L1971.2,357.8 M2009.2,316.6 L2001.5,351.0 M2039.4,309.5 L2032.2,344.1 M2242.3,321.5 L2226.0,352.2 M2269.4,321.5 L2253.2,353.1 M2296.6,321.5 L2281.2,353.1 M2305.6,339.6 L2332.7,339.6 M2341.8,327.8 L2356.2,357.6 M2372.5,318.9 L2378.8,348.7 M2447.5,332.4 L2436.7,354.1 M2477.4,337.9 L2459.3,367.7 M2844.9,512.0 L2875.7,493.9 M2854.0,536.4 L2884.7,522.9 M2854.0,593.4 L2885.6,604.2 M2844.9,616.9 L2875.7,633.2" fill="none" stroke="#3e3a39" stroke-width="8" stroke-linejoin="miter" stroke-linecap="butt" />
<path d="M1881.4,358.6 L1893.2,397.4 M1898.6,420.9 L1910.3,458.9 M1916.7,482.4 L1927.5,520.4 M1932.5,543.9 L1935.0,556.0 M2059.7,329.6 L2083.2,358.6 M2094.0,378.4 L2118.4,411.9 M2130.2,431.8 L2155.5,465.2 M2166.4,485.1 L2190.8,519.5 M2200.7,540.3 L2221.5,572.0 M1934.5,550.0 L1934.5,584.6" fill="none" stroke="#3e3a39" stroke-width="7" stroke-linejoin="miter" stroke-linecap="butt" />
<rect x="2215.5" y="595.5" width="7" height="7" fill="#3e3a39"/>
<path d="M1973.2,999.7 V980 H1985.4 M2019.4,980 H2066.1 M2091.9,980 H2138 M2163.8,980 H2184.8 V999.7 H2171.9 V1020 M2171.9,1043 V1080.4 M2171.9,1100 Q2170,1109.5 2154,1109.5 H2134.6 M2112.3,1109.5 H2075 M2049.2,1109.5 H2015.3 M1993.6,1109.5 H1973.2 V1088.5 M1973.2,1064.1 V1023.4" fill="none" stroke="#3e3a39" stroke-width="7" stroke-linejoin="miter" stroke-linecap="butt" />
<circle cx="2410.5" cy="343.3" r="44.4" fill="none" stroke="#3e3a39" stroke-width="4.5"/>
<rect x="2406" y="302.6" width="12.6" height="47" fill="#fff" stroke="#3e3a39" stroke-width="4"/>
<path d="M2409.6,349.6 L2376.1,471.7" fill="none" stroke="#3e3a39" stroke-width="4" stroke-linejoin="miter" stroke-linecap="butt" />
<path d="M2501.8,355 L2501.8,392.1 L2490,458.1" fill="none" stroke="#3e3a39" stroke-width="8" stroke-linejoin="miter" stroke-linecap="butt" />
<path d="M2423.1,447 L2423.1,458.1 L2592,458.1" fill="none" stroke="#3e3a39" stroke-width="8" stroke-linejoin="miter" stroke-linecap="butt" />
<path d="M2558.8,458 L2558.8,423.8 L2608.8,423.8" fill="none" stroke="#3e3a39" stroke-width="8" stroke-linejoin="miter" stroke-linecap="butt" />
<path d="M2604.3,420 L2604.3,710.5" fill="none" stroke="#3e3a39" stroke-width="9" stroke-linejoin="miter" stroke-linecap="butt" />
<path d="M2607.6,442.1 L2805,442.1" fill="none" stroke="#3e3a39" stroke-width="8" stroke-linejoin="miter" stroke-linecap="butt" />
<path d="M2587.5,458 L2587.5,668" fill="none" stroke="#3e3a39" stroke-width="5" stroke-linejoin="miter" stroke-linecap="butt" />
<path d="M2384.2,467.2 L2418.6,446.4 M2368.9,476.2 L2323.5,502.5" fill="none" stroke="#3e3a39" stroke-width="8" stroke-linejoin="miter" stroke-linecap="butt" />
<circle cx="2425.8" cy="440.0" r="7.6" fill="#fff" stroke="#3e3a39" stroke-width="4.5"/>
<circle cx="2376.1" cy="471.7" r="7.8" fill="#fff" stroke="#3e3a39" stroke-width="4.5"/>
<path d="M2633,464.5 L2811.5,491.2" fill="none" stroke="#3e3a39" stroke-width="8" stroke-linejoin="miter" stroke-linecap="butt" />
<circle cx="2625.3" cy="463.3" r="7.7" fill="#fff" stroke="#3e3a39" stroke-width="4.5"/>
<path d="M1870,565 L2857.6,564.4" fill="none" stroke="#3e3a39" stroke-width="4.5" stroke-linejoin="miter" stroke-linecap="butt" />
<path d="M2290,667.5 L2590,668.5" fill="none" stroke="#3e3a39" stroke-width="8" stroke-linejoin="miter" stroke-linecap="butt" />
<path d="M2560.2,668 L2560.2,706.5 L2604.3,706.5" fill="none" stroke="#3e3a39" stroke-width="8" stroke-linejoin="miter" stroke-linecap="butt" />
<path d="M2604.3,678.4 L2815.6,678.4 Q2842,665 2851.7,640.5" fill="none" stroke="#3e3a39" stroke-width="8" stroke-linejoin="miter" stroke-linecap="butt" />
<circle cx="2863.0" cy="565.4" r="44.4" fill="none" stroke="#3e3a39" stroke-width="4.5"/>
<rect x="2857.6" y="559" width="48" height="12.7" fill="#fff" stroke="#3e3a39" stroke-width="4"/>
<path d="M2735.1,769.8 L2727,757.1 L2776.7,721 L2774,712.8 M2776.7,721 L2787.5,732.7 L2809,717 Q2815,713 2820,719 L2857.1,768.9" fill="none" stroke="#3e3a39" stroke-width="4" stroke-linejoin="miter" stroke-linecap="butt" />
<path d="M1852,571 L1817,600.9" fill="none" stroke="#3e3a39" stroke-width="8" stroke-linejoin="miter" stroke-linecap="butt" />
<path d="M1870,566.5 L1921.9,575.6" fill="none" stroke="#3e3a39" stroke-width="6" stroke-linejoin="miter" stroke-linecap="butt" />
<circle cx="1860.4" cy="564.7" r="7.8" fill="#fff" stroke="#3e3a39" stroke-width="4.5"/>
<path d="M2162.0,601.7 C2167.4,602.6 2184.7,604.1 2194.7,607.1 C2204.7,610.1 2212.8,615.3 2221.8,619.8 C2230.8,624.3 2239.9,628.8 2248.9,634.2 C2257.9,639.6 2266.9,645.7 2276.0,652.3 C2285.1,658.9 2295.7,665.0 2303.2,674.0 C2310.7,683.0 2315.2,695.1 2321.2,706.6 C2327.2,718.1 2333.3,729.1 2339.3,742.7 C2345.3,756.3 2351.4,772.9 2357.4,788.0 C2363.4,803.1 2369.8,817.9 2375.5,833.2 C2381.2,848.5 2387.8,868.9 2391.7,880.0 C2395.6,891.1 2389.1,872.5 2399.0,900.0 C2408.9,927.5 2439.0,1011.5 2451.4,1044.8 C2463.8,1078.1 2465.6,1080.1 2473.3,1100.0 C2481.0,1119.9 2485.7,1133.0 2497.7,1164.2 C2509.7,1195.4 2535.4,1262.0 2545.5,1287.0 C2555.6,1312.0 2553.6,1305.8 2558.0,1314.4 C2562.4,1323.0 2566.4,1330.7 2571.7,1338.8 C2577.0,1346.9 2583.2,1354.9 2590.0,1363.2 C2596.8,1371.5 2606.2,1381.7 2612.5,1388.5 C2618.8,1395.3 2623.4,1399.2 2628.0,1404.0 C2632.6,1408.8 2635.1,1412.0 2640.0,1417.0 C2644.9,1422.0 2654.3,1431.4 2657.2,1434.3" fill="none" stroke="#3e3a39" stroke-width="8" stroke-linejoin="miter" stroke-linecap="butt" stroke-dasharray="0 12 41 27 3000"/>
<path d="M2196.5,681.3 C2200.7,684.0 2213.1,690.3 2221.8,697.5 C2230.5,704.7 2241.4,715.7 2248.9,724.7 C2256.4,733.8 2261.0,741.2 2267.0,751.8 C2273.0,762.3 2279.4,774.4 2285.1,788.0 C2290.8,801.6 2295.5,817.9 2301.0,833.2 C2306.5,848.5 2313.9,868.9 2318.0,880.0 C2322.1,891.1 2315.0,871.7 2325.3,900.0 C2335.6,928.3 2367.5,1016.7 2380.0,1050.0 C2392.5,1083.3 2391.3,1076.8 2400.1,1100.0 C2408.9,1123.2 2421.3,1158.3 2433.0,1189.5 C2444.7,1220.7 2462.3,1266.2 2470.5,1287.0 C2478.7,1307.8 2478.2,1305.8 2482.2,1314.4 C2486.2,1323.0 2490.1,1330.7 2494.4,1338.8 C2498.7,1346.9 2503.1,1355.1 2508.0,1363.2 C2512.9,1371.3 2518.5,1379.5 2524.0,1387.6 C2529.5,1395.7 2534.9,1403.3 2541.0,1412.0 C2547.1,1420.7 2555.4,1433.0 2560.7,1439.6 C2565.9,1446.2 2565.1,1444.9 2572.5,1451.8 C2579.9,1458.7 2596.0,1473.4 2605.1,1481.1 C2614.2,1488.8 2623.4,1495.3 2627.1,1498.2" fill="none" stroke="#3e3a39" stroke-width="8" stroke-linejoin="miter" stroke-linecap="butt" />
<path d="M2662.9,1442.1 L2630.0,1494.5" fill="none" stroke="#fff" stroke-width="2.5" stroke-linejoin="miter" stroke-linecap="butt" />
<path d="M2071.7,621.5 L2071.7,610 Q2071.7,601.7 2080,601.7 L2090,601.7 M2121.7,601.7 L2159.7,601.7 M2071.7,644.5 L2071.7,661 Q2071.7,669.5 2080,669.5 L2089.2,669.5 M2117.7,669.5 L2152.9,669.5" fill="none" stroke="#3e3a39" stroke-width="8" stroke-linejoin="miter" stroke-linecap="butt" />
<path d="M2664.1,1443.7 Q2670.2,1428.2 2685.6,1425.8 M2658,1466.5 Q2657.2,1478.7 2640.9,1489.3 M2631.9,1511.2 Q2629,1516 2623,1519.4" fill="none" stroke="#3e3a39" stroke-width="3.3" stroke-linejoin="miter" stroke-linecap="butt" />
<path d="M2369.8,1683.5 L2369.8,1719.4 Q2371,1748 2399.7,1752.2 L2529,1771.1 Q2585,1782 2606.6,1824.8 L2675.6,2002.7" fill="none" stroke="#3e3a39" stroke-width="8" stroke-linejoin="miter" stroke-linecap="butt" />
<path d="M2430.5,1683.5 L2430.5,1692.5 L2548.9,1706.4 Q2625,1722 2658.3,1783 L2740.7,1995.5" fill="none" stroke="#3e3a39" stroke-width="8" stroke-linejoin="miter" stroke-linecap="butt" />
<path d="M2509,1599 L2538.2,1611 L2538.2,1647.5 L2514.3,1647.5 L2514.3,1625.3 L2489,1625.3" fill="none" stroke="#3e3a39" stroke-width="7.5" stroke-linejoin="miter" stroke-linecap="butt" />
<path d="M2388.7,1684.5 L2395.2,1702.4 A6.5,6.5 0 1 1 2382.2,1702.4 Z M2407.6,1690.5 L2427.6,1704.2 A6.5,6.5 0 1 1 2417.6,1712.6 Z M2402.7,1712.4 L2414.9,1733.7 A6.5,6.5 0 1 1 2402.3,1736.9 Z M2430.5,1723.3 L2453.8,1729.7 A6.5,6.5 0 1 1 2447.0,1740.9 Z M2452.4,1717.4 L2475.0,1709.9 A6.5,6.5 0 1 1 2475.6,1722.9 Z M2470.3,1735.3 L2493.5,1741.6 A6.5,6.5 0 1 1 2486.9,1752.8 Z M2492.2,1730.3 L2514.0,1719.9 A6.5,6.5 0 1 1 2516.2,1732.7 Z M2515.1,1747.2 L2539.3,1745.9 A6.5,6.5 0 1 1 2536.5,1758.5 Z" fill="none" stroke="#3e3a39" stroke-width="3" stroke-linejoin="round" stroke-linecap="butt" />
<polygon points="1768.7,823.3 1769.8,816.0 1770.8,808.7 1771.8,801.3 1772.8,794.0 1774.0,786.6 1775.3,779.3 1776.9,771.9 1778.8,764.6 1780.9,757.4 1783.2,750.2 1785.6,743.2 1788.0,736.1 1790.5,729.1 1775.4,722.5 1808.5,707.6 1819.8,742.1 1804.7,735.5 1801.2,741.9 1797.7,748.4 1794.3,754.9 1791.0,761.4 1787.8,767.9 1784.9,774.5 1782.2,781.3 1779.8,788.1 1777.5,795.1 1775.3,802.1 1773.2,809.2 1771.0,816.3 1768.7,823.3" fill="#54c3f1" />
<polygon points="1808.5,688.6 1809.8,681.5 1810.8,674.3 1811.6,667.1 1812.5,659.9 1814.0,652.5 1816.1,645.1 1819.3,638.0 1823.4,631.2 1828.1,625.0 1833.3,619.3 1838.7,614.0 1844.2,608.9 1849.7,604.0 1855.3,599.2 1848.6,590.4 1882.0,592.0 1873.5,624.3 1866.8,615.5 1860.6,619.1 1854.4,622.7 1848.4,626.3 1842.7,630.1 1837.2,634.1 1832.2,638.5 1827.7,643.3 1823.9,648.8 1820.7,654.8 1818.1,661.3 1815.8,668.1 1813.6,675.0 1811.2,681.9 1808.5,688.6" fill="#54c3f1" />
<polygon points="1848.0,540.3 1852.6,534.9 1857.0,529.3 1861.2,523.6 1865.6,517.8 1870.1,512.2 1875.2,506.7 1880.8,501.7 1887.1,497.2 1893.8,493.4 1900.9,490.3 1908.0,487.7 1915.1,485.5 1922.2,483.6 1929.3,481.8 1936.4,480.2 1943.4,478.6 1941.3,465.6 1971.8,486.0 1948.2,514.1 1946.2,501.1 1939.1,501.2 1932.1,501.4 1925.1,501.7 1918.3,502.2 1911.5,502.9 1904.9,503.8 1898.5,505.2 1892.3,507.2 1886.3,509.9 1880.5,513.3 1875.0,517.3 1869.6,521.7 1864.4,526.4 1859.1,531.2 1853.6,535.9 1848.0,540.3" fill="#54c3f1" />
<polygon points="1737.4,1010.5 1744.6,1009.2 1751.9,1007.9 1759.1,1006.6 1766.3,1005.4 1773.6,1004.1 1780.8,1002.8 1788.1,1001.5 1795.3,1000.2 1802.5,998.9 1809.8,997.6 1817.0,996.3 1824.2,995.1 1831.5,993.8 1838.7,992.5 1837.6,977.0 1869.4,1001.4 1841.3,1029.9 1840.2,1014.4 1832.9,1014.2 1825.5,1013.9 1818.2,1013.6 1810.8,1013.3 1803.5,1013.0 1796.2,1012.7 1788.8,1012.5 1781.5,1012.2 1774.1,1011.9 1766.8,1011.6 1759.4,1011.3 1752.1,1011.1 1744.7,1010.8 1737.4,1010.5" fill="#54c3f1" />
<polygon points="1750.0,1118.9 1757.1,1117.4 1764.1,1115.8 1771.2,1114.3 1778.3,1112.7 1785.4,1111.2 1792.4,1109.6 1799.5,1108.1 1806.6,1106.5 1813.7,1105.0 1820.7,1103.4 1827.8,1101.9 1834.9,1100.3 1842.0,1098.8 1840.7,1083.8 1873.9,1108.0 1845.4,1137.6 1844.1,1122.7 1836.8,1122.4 1829.6,1122.1 1822.4,1121.8 1815.1,1121.5 1807.9,1121.2 1800.7,1120.9 1793.4,1120.6 1786.2,1120.4 1778.9,1120.1 1771.7,1119.8 1764.5,1119.5 1757.2,1119.2 1750.0,1118.9" fill="#54c3f1" />
<polygon points="1746.5,1346.0 1753.9,1346.5 1761.3,1346.8 1768.7,1347.1 1776.1,1347.4 1783.6,1348.0 1791.2,1349.1 1798.7,1350.5 1806.2,1352.5 1813.5,1354.7 1820.7,1357.2 1827.8,1359.9 1834.7,1362.6 1841.7,1365.4 1848.2,1352.5 1860.4,1385.7 1826.3,1395.2 1832.9,1382.3 1826.7,1378.2 1820.6,1374.3 1814.4,1370.4 1808.2,1366.8 1801.9,1363.3 1795.5,1360.2 1789.0,1357.5 1782.2,1355.2 1775.2,1353.2 1768.1,1351.4 1760.9,1349.7 1753.7,1348.0 1746.5,1346.0" fill="#54c3f1" />
<polygon points="1911.0,1472.5 1918.4,1472.2 1925.9,1472.4 1933.3,1472.8 1940.7,1473.2 1948.0,1473.4 1955.2,1473.1 1962.1,1472.2 1968.7,1470.4 1974.9,1467.9 1980.7,1464.6 1986.3,1460.6 1991.6,1456.1 1996.9,1451.4 2002.0,1446.4 2007.0,1441.1 2012.0,1435.8 2017.0,1430.4 2006.3,1417.8 2048.5,1417.5 2042.4,1459.3 2031.8,1446.7 2025.8,1451.2 2019.8,1455.7 2013.6,1460.2 2007.3,1464.6 2000.7,1468.7 1993.9,1472.6 1986.6,1476.1 1978.9,1478.8 1971.0,1480.5 1963.0,1481.2 1955.1,1480.8 1947.5,1479.8 1940.1,1478.3 1932.8,1476.6 1925.6,1475.0 1918.3,1473.5 1911.0,1472.5" fill="#54c3f1" />
<polygon points="2048.5,1553.9 2055.9,1553.6 2063.4,1553.8 2070.9,1554.2 2078.3,1554.7 2085.6,1554.8 2092.7,1554.5 2099.6,1553.6 2106.2,1551.9 2112.4,1549.3 2118.1,1546.0 2123.6,1541.9 2128.9,1537.4 2134.1,1532.5 2139.1,1527.4 2144.0,1522.1 2149.0,1516.7 2153.9,1511.2 2143.0,1498.8 2185.2,1497.8 2179.8,1539.6 2169.0,1527.2 2163.1,1531.8 2157.1,1536.5 2151.0,1541.1 2144.7,1545.5 2138.2,1549.8 2131.4,1553.8 2124.2,1557.4 2116.5,1560.2 2108.6,1562.0 2100.5,1562.6 2092.7,1562.3 2085.0,1561.3 2077.6,1559.8 2070.3,1558.1 2063.1,1556.4 2055.8,1554.9 2048.5,1553.9" fill="#54c3f1" />
<polygon points="2169.6,1615.4 2176.9,1615.2 2184.1,1615.5 2191.4,1615.9 2198.6,1616.4 2205.8,1616.7 2212.8,1616.7 2219.7,1616.3 2226.4,1615.2 2232.8,1613.4 2238.8,1610.9 2244.5,1607.6 2250.0,1603.8 2255.3,1599.5 2260.5,1595.0 2265.6,1590.2 2270.6,1585.3 2275.6,1580.2 2280.7,1575.0 2270.3,1562.2 2312.5,1562.9 2305.4,1604.5 2295.1,1591.6 2289.2,1595.9 2283.2,1600.2 2277.1,1604.5 2270.9,1608.6 2264.4,1612.6 2257.7,1616.3 2250.6,1619.6 2243.2,1622.3 2235.4,1624.1 2227.6,1624.9 2219.9,1624.9 2212.4,1624.1 2205.1,1622.8 2197.9,1621.2 2190.9,1619.5 2183.8,1617.9 2176.8,1616.5 2169.6,1615.4" fill="#54c3f1" />
<polygon points="2308.5,616.6 2315.6,615.7 2322.8,614.9 2329.9,614.0 2337.1,613.2 2344.2,612.3 2351.3,611.5 2358.5,610.6 2365.6,609.8 2372.8,608.9 2379.9,608.1 2387.1,607.2 2394.2,606.4 2401.3,605.5 2408.5,604.7 2415.6,603.8 2422.8,603.0 2429.9,602.1 2429.9,582.9 2468.4,616.6 2429.9,650.3 2429.9,631.1 2422.8,630.2 2415.6,629.4 2408.5,628.5 2401.3,627.7 2394.2,626.8 2387.1,626.0 2379.9,625.1 2372.8,624.3 2365.6,623.4 2358.5,622.6 2351.3,621.7 2344.2,620.9 2337.1,620.0 2329.9,619.2 2322.8,618.3 2315.6,617.5 2308.5,616.6" fill="#54c3f1" />
<polygon points="1900.0,1018.0 1906.4,1014.9 1912.8,1011.9 1919.3,1008.9 1925.7,1005.8 1931.9,1002.5 1938.0,999.0 1943.9,995.2 1949.6,991.1 1955.1,986.8 1960.6,982.3 1965.9,977.7 1971.1,973.0 1976.1,968.2 1980.7,963.0 1984.9,957.6 1988.9,952.0 1992.8,946.4 1995.6,941.3 1996.8,935.8 1997.4,929.6 1997.2,923.1 1996.7,916.6 1995.8,910.2 1994.4,903.4 1993.0,896.3 1991.8,888.7 1991.3,880.9 1991.5,873.2 1992.0,865.4 1993.5,857.2 1996.5,848.8 2001.4,841.0 2007.6,834.7 2013.7,829.9 2019.2,825.7 2023.9,821.6 2027.8,817.2 2031.4,812.1 2035.1,806.4 2039.1,800.3 2043.5,794.0 2048.3,787.9 2038.3,776.4 2091.6,762.4 2075.9,815.2 2065.9,803.6 2061.6,808.4 2057.5,813.5 2053.4,819.0 2048.9,825.0 2043.9,831.1 2037.9,837.0 2031.6,841.9 2025.5,846.0 2020.3,849.7 2016.2,853.2 2013.4,857.2 2011.5,862.2 2010.3,867.9 2009.7,874.3 2009.3,880.8 2009.4,887.2 2010.1,893.7 2011.0,900.6 2012.0,907.8 2012.7,915.5 2012.6,923.2 2011.9,930.9 2010.4,938.8 2007.6,946.8 2002.9,953.7 1997.9,959.3 1992.8,964.6 1987.5,969.6 1981.8,974.4 1976.0,978.8 1970.3,983.2 1964.4,987.3 1958.5,991.4 1952.4,995.3 1946.2,998.9 1939.9,1002.4 1933.3,1005.4 1926.7,1008.1 1920.0,1010.6 1913.3,1013.0 1906.6,1015.5 1900.0,1018.0" fill="#54c3f1" />
<polygon points="2060.7,1074.3 2055.9,1069.1 2051.1,1063.9 2046.3,1058.7 2041.4,1053.6 2036.6,1048.4 2031.8,1043.1 2027.1,1037.9 2022.4,1032.5 2017.9,1027.0 2013.4,1021.4 2009.1,1015.7 2004.9,1009.8 2000.9,1003.9 1997.0,997.8 1993.4,991.5 1990.0,985.0 1987.0,978.2 1984.5,971.2 1982.5,964.1 1980.7,956.8 1979.7,949.0 1979.9,940.8 1981.5,932.9 1984.0,925.6 1987.0,918.7 1990.4,912.0 1994.2,905.2 1999.0,898.8 2003.7,893.6 2007.2,888.8 2009.8,883.4 2012.1,877.5 2013.8,871.5 2014.7,865.3 2015.1,858.9 2015.2,852.2 2015.1,845.5 2014.7,838.9 2014.0,832.4 2013.0,825.6 2012.0,818.5 2011.4,811.4 2010.8,804.5 2010.1,797.8 2009.2,791.3 2008.0,784.8 1994.1,788.9 2010.2,735.3 2048.6,776.0 2034.8,780.1 2035.8,787.7 2036.4,795.2 2036.9,802.6 2037.1,809.8 2037.4,816.8 2037.4,823.8 2037.4,831.2 2037.2,838.7 2036.6,846.2 2035.8,853.7 2034.7,861.1 2033.1,868.7 2030.9,876.3 2028.2,883.7 2024.8,890.8 2020.7,897.7 2015.4,904.0 2010.2,908.9 2006.2,913.4 2002.9,918.9 1999.7,924.8 1996.9,930.8 1994.7,936.7 1993.2,942.6 1992.8,948.6 1993.3,954.8 1994.4,961.4 1995.8,968.0 1997.5,974.5 1999.7,980.8 2002.3,987.1 2005.1,993.4 2008.2,999.7 2011.4,1005.8 2014.8,1011.9 2018.4,1017.9 2022.2,1023.8 2026.1,1029.6 2030.3,1035.3 2034.5,1040.9 2038.9,1046.5 2043.2,1052.0 2047.6,1057.6 2052.0,1063.1 2056.4,1068.7 2060.7,1074.3" fill="#e60012" />
<g clip-path="url(#cTw)"><polygon points="1900.0,1018.0 1906.4,1014.9 1912.8,1011.9 1919.3,1008.9 1925.7,1005.8 1931.9,1002.5 1938.0,999.0 1943.9,995.2 1949.6,991.1 1955.1,986.8 1960.6,982.3 1965.9,977.7 1971.1,973.0 1976.1,968.2 1980.7,963.0 1984.9,957.6 1988.9,952.0 1992.8,946.4 1995.6,941.3 1996.8,935.8 1997.4,929.6 1997.2,923.1 1996.7,916.6 1995.8,910.2 1994.4,903.4 1993.0,896.3 1991.8,888.7 1991.3,880.9 1991.5,873.2 1992.0,865.4 1993.5,857.2 1996.5,848.8 2001.4,841.0 2007.6,834.7 2013.7,829.9 2019.2,825.7 2023.9,821.6 2027.8,817.2 2031.4,812.1 2035.1,806.4 2039.1,800.3 2043.5,794.0 2048.3,787.9 2038.3,776.4 2091.6,762.4 2075.9,815.2 2065.9,803.6 2061.6,808.4 2057.5,813.5 2053.4,819.0 2048.9,825.0 2043.9,831.1 2037.9,837.0 2031.6,841.9 2025.5,846.0 2020.3,849.7 2016.2,853.2 2013.4,857.2 2011.5,862.2 2010.3,867.9 2009.7,874.3 2009.3,880.8 2009.4,887.2 2010.1,893.7 2011.0,900.6 2012.0,907.8 2012.7,915.5 2012.6,923.2 2011.9,930.9 2010.4,938.8 2007.6,946.8 2002.9,953.7 1997.9,959.3 1992.8,964.6 1987.5,969.6 1981.8,974.4 1976.0,978.8 1970.3,983.2 1964.4,987.3 1958.5,991.4 1952.4,995.3 1946.2,998.9 1939.9,1002.4 1933.3,1005.4 1926.7,1008.1 1920.0,1010.6 1913.3,1013.0 1906.6,1015.5 1900.0,1018.0" fill="#54c3f1" /></g>
<polygon points="2080.9,1276.2 2079.9,1269.0 2079.1,1261.9 2078.2,1254.7 2077.3,1247.6 2076.4,1240.5 2075.2,1233.4 2073.8,1226.5 2072.0,1219.8 2069.8,1213.3 2067.1,1206.8 2064.3,1200.2 2061.4,1193.5 2058.7,1186.8 2055.9,1180.3 2052.9,1173.6 2050.1,1166.6 2047.7,1159.1 2045.9,1151.2 2044.8,1143.4 2044.2,1135.7 2043.8,1128.4 2043.5,1121.2 2043.0,1114.3 2042.3,1107.8 2029.0,1111.2 2050.5,1079.0 2081.0,1102.8 2067.7,1106.2 2067.4,1114.1 2066.7,1121.6 2066.0,1128.8 2065.4,1135.8 2064.9,1142.6 2064.8,1149.1 2065.3,1155.4 2066.4,1161.9 2068.0,1168.5 2069.9,1175.4 2071.8,1182.5 2073.5,1189.5 2075.3,1196.4 2077.2,1203.4 2078.9,1210.6 2080.3,1218.0 2081.2,1225.4 2081.5,1232.8 2081.6,1240.1 2081.6,1247.3 2081.4,1254.6 2081.2,1261.8 2081.0,1269.0 2080.9,1276.2" fill="#e60012" />
<polygon points="2190.4,1335.9 2191.6,1328.6 2193.3,1321.3 2195.1,1314.2 2196.8,1307.1 2198.1,1300.2 2198.6,1293.4 2198.2,1286.8 2197.0,1280.6 2194.8,1274.6 2191.8,1268.7 2188.3,1262.9 2184.4,1257.1 2180.3,1251.3 2176.0,1245.6 2164.4,1252.5 2166.0,1209.3 2205.3,1227.4 2193.7,1234.4 2197.1,1241.1 2200.4,1248.0 2203.6,1255.0 2206.4,1262.4 2208.7,1270.2 2210.1,1278.3 2210.2,1286.7 2208.8,1294.8 2206.4,1302.3 2203.3,1309.4 2199.9,1316.0 2196.5,1322.5 2193.2,1329.1 2190.4,1335.9" fill="#e60012" />
<polygon points="2280.8,1394.7 2282.0,1387.4 2283.7,1380.1 2285.5,1373.0 2287.2,1365.9 2288.5,1359.0 2289.0,1352.2 2288.6,1345.6 2287.4,1339.4 2285.2,1333.4 2282.2,1327.5 2278.7,1321.7 2274.8,1315.9 2270.7,1310.1 2266.4,1304.4 2254.8,1311.3 2256.4,1268.1 2295.7,1286.2 2284.1,1293.2 2287.5,1299.9 2290.8,1306.8 2294.0,1313.8 2296.8,1321.2 2299.1,1329.0 2300.5,1337.1 2300.6,1345.5 2299.2,1353.6 2296.8,1361.1 2293.7,1368.2 2290.3,1374.8 2286.9,1381.3 2283.6,1387.9 2280.8,1394.7" fill="#e60012" />
<polygon points="2376.7,1450.7 2377.9,1443.4 2379.6,1436.1 2381.4,1429.0 2383.1,1421.9 2384.4,1415.0 2384.9,1408.2 2384.5,1401.6 2383.3,1395.4 2381.1,1389.4 2378.1,1383.5 2374.6,1377.7 2370.7,1371.9 2366.6,1366.1 2362.3,1360.4 2350.7,1367.3 2352.3,1324.1 2391.6,1342.2 2380.0,1349.2 2383.4,1355.9 2386.7,1362.8 2389.9,1369.8 2392.7,1377.2 2395.0,1385.0 2396.4,1393.1 2396.5,1401.5 2395.1,1409.6 2392.7,1417.1 2389.6,1424.2 2386.2,1430.8 2382.8,1437.3 2379.5,1443.9 2376.7,1450.7" fill="#e60012" />
<polygon points="2022.5,531.2 2021.3,524.2 2020.3,517.2 2019.3,510.1 2018.3,503.1 2017.3,496.1 2016.2,489.2 2015.0,482.3 2013.6,475.6 2012.0,468.9 2010.1,462.4 2007.9,456.0 2005.5,449.7 2002.9,443.4 2000.2,437.0 1997.3,430.8 1994.4,424.5 1991.4,418.1 1988.3,411.8 1975.9,415.8 1992.6,377.5 2002.5,406.9 2002.5,406.9 2004.8,413.5 2007.0,420.2 2009.2,426.9 2011.4,433.6 2013.4,440.4 2015.2,447.2 2016.9,454.0 2018.3,460.9 2019.4,467.9 2020.2,474.9 2020.8,481.9 2021.2,488.9 2021.5,496.0 2021.7,503.0 2021.8,510.1 2021.9,517.1 2022.1,524.2 2022.5,531.2" fill="#e60012" />
<polygon points="2022.5,531.2 2023.0,524.1 2023.6,517.1 2024.3,510.0 2025.0,503.0 2025.7,495.9 2026.2,488.7 2026.7,481.5 2026.9,474.2 2026.8,466.8 2026.5,459.5 2025.8,452.1 2024.9,444.7 2023.8,437.4 2022.5,430.2 2021.1,423.1 2019.7,416.0 2018.2,409.0 2016.6,402.0 2029.0,398.0 1992.6,377.5 2002.5,406.9 2002.5,406.9 2004.8,413.5 2007.0,420.2 2009.2,426.9 2011.4,433.6 2013.4,440.4 2015.2,447.2 2016.9,454.0 2018.3,460.9 2019.4,467.9 2020.2,474.9 2020.8,481.9 2021.2,488.9 2021.5,496.0 2021.7,503.0 2021.8,510.1 2021.9,517.1 2022.1,524.2 2022.5,531.2" fill="#54c3f1" />
<polygon points="2098.6,456.2 2105.3,453.0 2112.0,449.9 2118.8,446.9 2125.5,443.8 2132.2,440.8 2138.8,437.6 2145.2,434.3 2151.5,430.7 2157.5,426.9 2163.2,422.9 2168.8,418.5 2174.3,413.9 2179.6,409.1 2184.9,404.2 2190.2,399.2 2195.5,394.1 2188.8,385.0 2223.9,387.5 2202.9,403.5 2202.9,403.5 2197.1,408.1 2191.3,412.6 2185.4,417.0 2179.4,421.3 2173.3,425.4 2167.0,429.3 2160.6,432.9 2154.0,436.2 2147.3,439.1 2140.4,441.8 2133.5,444.3 2126.5,446.7 2119.5,449.0 2112.5,451.3 2105.5,453.7 2098.6,456.2" fill="#e60012" />
<polygon points="2098.6,456.2 2105.8,454.4 2113.0,452.7 2120.2,451.1 2127.4,449.5 2134.7,447.9 2142.0,446.0 2149.3,444.0 2156.6,441.6 2163.8,438.9 2170.9,435.8 2177.8,432.3 2184.5,428.7 2191.2,424.8 2197.6,420.9 2204.0,417.0 2210.3,413.0 2217.1,422.0 2223.9,387.5 2202.9,403.5 2202.9,403.5 2197.1,408.1 2191.3,412.6 2185.4,417.0 2179.4,421.3 2173.3,425.4 2167.0,429.3 2160.6,432.9 2154.0,436.2 2147.3,439.1 2140.4,441.8 2133.5,444.3 2126.5,446.7 2119.5,449.0 2112.5,451.3 2105.5,453.7 2098.6,456.2" fill="#54c3f1" />
<polygon points="2225.1,512.3 2231.0,508.0 2236.9,503.7 2242.8,499.5 2248.8,495.3 2254.7,491.0 2260.6,486.7 2266.4,482.5 2272.2,478.1 2277.9,473.7 2283.5,469.3 2289.0,464.7 2294.5,460.1 2299.9,455.3 2305.3,450.6 2310.7,445.7 2299.8,430.5 2344.5,436.3 2317.7,455.5 2317.7,455.5 2311.8,459.7 2305.8,463.9 2299.9,468.0 2293.9,472.0 2287.8,476.0 2281.7,479.8 2275.5,483.6 2269.2,487.3 2262.9,490.9 2256.6,494.5 2250.3,498.0 2244.0,501.6 2237.7,505.1 2231.4,508.7 2225.1,512.3" fill="#e60012" />
<polygon points="2225.1,512.3 2231.8,509.4 2238.5,506.5 2245.2,503.7 2251.9,500.8 2258.6,498.0 2265.3,495.1 2272.0,492.1 2278.7,489.1 2285.4,486.0 2292.1,482.7 2298.7,479.4 2305.3,475.9 2311.8,472.4 2318.2,468.8 2324.7,465.3 2335.5,480.5 2344.5,436.3 2317.7,455.5 2317.7,455.5 2311.8,459.7 2305.8,463.9 2299.9,468.0 2293.9,472.0 2287.8,476.0 2281.7,479.8 2275.5,483.6 2269.2,487.3 2262.9,490.9 2256.6,494.5 2250.3,498.0 2244.0,501.6 2237.7,505.1 2231.4,508.7 2225.1,512.3" fill="#54c3f1" />
<polygon points="2002.4,718.0 2000.6,711.1 1998.8,704.2 1997.0,697.3 1995.3,690.4 1993.7,683.4 1992.2,676.4 1990.7,669.2 1989.6,661.7 1989.4,653.9 1990.3,646.1 1991.9,638.4 1994.2,630.9 1997.3,623.5 2001.2,616.5 2005.7,609.8 2011.9,602.8 2019.7,597.9 2024.3,595.3 2014.9,589.5 2049.2,587.8 2031.1,605.8 2031.1,605.8 2024.7,608.6 2018.5,611.7 2013.5,616.8 2009.0,622.3 2005.0,628.1 2001.8,634.4 1999.1,641.0 1997.0,647.8 1995.6,654.7 1995.2,661.8 1995.6,668.9 1996.3,675.9 1997.1,682.9 1998.0,690.0 1999.1,697.0 2000.2,704.0 2001.3,711.0 2002.4,718.0" fill="#e60012" />
<polygon points="2002.4,718.0 2002.0,710.9 2001.6,703.8 2001.1,696.7 2000.8,689.6 2000.6,682.5 2000.4,675.4 2000.4,668.5 2000.7,661.8 2001.8,655.5 2003.7,649.4 2006.3,643.5 2009.3,637.9 2012.8,632.8 2016.8,628.1 2021.3,623.7 2025.0,620.7 2029.7,619.3 2037.9,616.3 2047.4,622.1 2049.2,587.8 2031.1,605.8 2031.1,605.8 2024.7,608.6 2018.5,611.7 2013.5,616.8 2009.0,622.3 2005.0,628.1 2001.8,634.4 1999.1,641.0 1997.0,647.8 1995.6,654.7 1995.2,661.8 1995.6,668.9 1996.3,675.9 1997.1,682.9 1998.0,690.0 1999.1,697.0 2000.2,704.0 2001.3,711.0 2002.4,718.0" fill="#54c3f1" />
<polygon points="2094.6,732.2 2094.0,725.1 2093.3,718.1 2092.6,711.0 2092.1,703.8 2092.0,696.4 2092.4,689.1 2093.1,681.7 2094.6,674.1 2097.3,666.4 2101.3,659.1 2106.5,652.7 2112.2,647.1 2118.7,641.9 2126.2,637.5 2133.8,634.4 2141.6,631.9 2149.7,630.2 2156.8,629.1 2155.5,617.3 2184.1,640.7 2159.9,668.7 2158.6,656.9 2151.6,656.4 2145.7,656.2 2139.7,656.8 2133.8,657.7 2128.5,659.4 2123.2,662.0 2118.0,665.2 2113.3,668.9 2109.4,673.3 2106.2,678.4 2103.6,684.4 2101.5,690.8 2099.7,697.4 2098.3,704.2 2097.2,711.1 2096.4,718.1 2095.5,725.2 2094.6,732.2" fill="#fff" stroke="#fff" stroke-width="7" stroke-linejoin="miter"/>
<polygon points="2094.6,732.2 2094.0,725.1 2093.3,718.1 2092.6,711.0 2092.1,703.8 2092.0,696.4 2092.4,689.1 2093.1,681.7 2094.6,674.1 2097.3,666.4 2101.3,659.1 2106.5,652.7 2112.2,647.1 2118.7,641.9 2126.2,637.5 2133.8,634.4 2141.6,631.9 2149.7,630.2 2156.8,629.1 2155.5,617.3 2184.1,640.7 2157.7,643.0 2157.7,643.0 2150.6,643.3 2143.6,644.0 2136.8,645.6 2130.0,647.6 2123.6,650.6 2117.7,654.5 2112.2,659.0 2107.3,664.0 2103.3,669.8 2100.4,676.3 2098.4,683.0 2096.9,689.9 2095.8,696.9 2095.2,704.0 2094.9,711.0 2094.8,718.1 2094.8,725.1 2094.6,732.2" fill="#e60012" />
<polygon points="2094.6,732.2 2095.5,725.2 2096.4,718.1 2097.2,711.1 2098.3,704.2 2099.7,697.4 2101.5,690.8 2103.6,684.4 2106.2,678.4 2109.4,673.3 2113.3,668.9 2118.0,665.2 2123.2,662.0 2128.5,659.4 2133.8,657.7 2139.7,656.8 2145.7,656.2 2151.6,656.4 2158.6,656.9 2159.9,668.7 2184.1,640.7 2157.7,643.0 2157.7,643.0 2150.6,643.3 2143.6,644.0 2136.8,645.6 2130.0,647.6 2123.6,650.6 2117.7,654.5 2112.2,659.0 2107.3,664.0 2103.3,669.8 2100.4,676.3 2098.4,683.0 2096.9,689.9 2095.8,696.9 2095.2,704.0 2094.9,711.0 2094.8,718.1 2094.8,725.1 2094.6,732.2" fill="#54c3f1" />
<polygon points="2504.5,513.3 2511.6,512.5 2518.7,511.7 2525.8,510.9 2532.9,510.1 2540.0,509.2 2547.1,508.4 2554.2,507.6 2561.3,506.8 2568.3,506.0 2575.4,505.2 2582.5,504.4 2589.6,503.6 2596.7,502.7 2603.8,501.9 2610.9,501.1 2618.0,500.3 2625.1,499.5 2625.1,479.0 2663.6,513.3 2625.1,513.3 2625.1,513.3 2618.0,513.3 2610.9,513.3 2603.8,513.3 2596.7,513.3 2589.6,513.3 2582.5,513.3 2575.4,513.3 2568.3,513.3 2561.3,513.3 2554.2,513.3 2547.1,513.3 2540.0,513.3 2532.9,513.3 2525.8,513.3 2518.7,513.3 2511.6,513.3 2504.5,513.3" fill="#e60012" />
<polygon points="2504.5,513.3 2511.6,514.1 2518.7,514.9 2525.8,515.7 2532.9,516.5 2540.0,517.4 2547.1,518.2 2554.2,519.0 2561.3,519.8 2568.3,520.6 2575.4,521.4 2582.5,522.2 2589.6,523.0 2596.7,523.9 2603.8,524.7 2610.9,525.5 2618.0,526.3 2625.1,527.1 2625.1,547.6 2663.6,513.3 2625.1,513.3 2625.1,513.3 2618.0,513.3 2610.9,513.3 2603.8,513.3 2596.7,513.3 2589.6,513.3 2582.5,513.3 2575.4,513.3 2568.3,513.3 2561.3,513.3 2554.2,513.3 2547.1,513.3 2540.0,513.3 2532.9,513.3 2525.8,513.3 2518.7,513.3 2511.6,513.3 2504.5,513.3" fill="#54c3f1" />
<polygon points="2623.0,608.5 2630.1,607.6 2637.2,606.7 2644.4,605.9 2651.5,605.0 2658.6,604.1 2665.7,603.2 2672.9,602.4 2680.0,601.5 2687.1,600.6 2694.2,599.7 2701.4,598.9 2708.5,598.0 2715.6,597.1 2722.7,596.2 2729.9,595.4 2737.0,594.5 2744.1,593.6 2744.1,573.7 2783.5,608.5 2744.1,608.5 2744.1,608.5 2737.0,608.5 2729.9,608.5 2722.7,608.5 2715.6,608.5 2708.5,608.5 2701.4,608.5 2694.2,608.5 2687.1,608.5 2680.0,608.5 2672.9,608.5 2665.7,608.5 2658.6,608.5 2651.5,608.5 2644.4,608.5 2637.2,608.5 2630.1,608.5 2623.0,608.5" fill="#e60012" />
<polygon points="2623.0,608.5 2630.1,609.4 2637.2,610.3 2644.4,611.1 2651.5,612.0 2658.6,612.9 2665.7,613.8 2672.9,614.6 2680.0,615.5 2687.1,616.4 2694.2,617.3 2701.4,618.1 2708.5,619.0 2715.6,619.9 2722.7,620.8 2729.9,621.6 2737.0,622.5 2744.1,623.4 2744.1,643.3 2783.5,608.5 2744.1,608.5 2744.1,608.5 2737.0,608.5 2729.9,608.5 2722.7,608.5 2715.6,608.5 2708.5,608.5 2701.4,608.5 2694.2,608.5 2687.1,608.5 2680.0,608.5 2672.9,608.5 2665.7,608.5 2658.6,608.5 2651.5,608.5 2644.4,608.5 2637.2,608.5 2630.1,608.5 2623.0,608.5" fill="#54c3f1" />
<polygon points="1965.3,302.5 1962.1,295.9 1958.9,289.2 1955.7,282.6 1952.5,276.0 1949.3,269.4 1946.1,262.7 1942.8,256.1 1939.6,249.5 1936.4,242.8 1933.2,236.2 1930.0,229.6 1926.8,222.9 1923.6,216.3 1920.4,209.7 1917.2,203.1 1914.0,196.4 1910.8,189.8 1887.9,198.5 1907.4,149.9 1921.1,185.9 1921.1,185.9 1923.7,192.8 1926.3,199.6 1928.9,206.5 1931.5,213.3 1934.1,220.2 1936.7,227.1 1939.3,233.9 1941.9,240.8 1944.5,247.6 1947.1,254.5 1949.7,261.3 1952.3,268.2 1954.9,275.1 1957.5,281.9 1960.1,288.8 1962.7,295.6 1965.3,302.5" fill="#e60012" />
<polygon points="1965.3,302.5 1963.3,295.4 1961.3,288.3 1959.3,281.2 1957.3,274.1 1955.3,267.1 1953.3,260.0 1951.3,252.9 1949.3,245.8 1947.3,238.7 1945.3,231.6 1943.3,224.5 1941.3,217.4 1939.3,210.3 1937.3,203.3 1935.3,196.2 1933.3,189.1 1931.3,182.0 1954.2,173.3 1907.4,149.9 1921.1,185.9 1921.1,185.9 1923.7,192.8 1926.3,199.6 1928.9,206.5 1931.5,213.3 1934.1,220.2 1936.7,227.1 1939.3,233.9 1941.9,240.8 1944.5,247.6 1947.1,254.5 1949.7,261.3 1952.3,268.2 1954.9,275.1 1957.5,281.9 1960.1,288.8 1962.7,295.6 1965.3,302.5" fill="#54c3f1" />
<polygon points="2267.3,297.1 2268.1,289.8 2268.9,282.4 2269.8,275.1 2270.6,267.8 2271.4,260.4 2272.2,253.1 2273.0,245.8 2273.9,238.4 2274.7,231.1 2275.5,223.8 2276.3,216.4 2277.2,209.1 2278.0,201.8 2278.8,194.4 2279.6,187.1 2280.4,179.8 2281.3,172.4 2257.0,167.6 2299.8,136.2 2292.0,174.6 2292.0,174.6 2290.6,181.8 2289.1,189.0 2287.7,196.2 2286.2,203.4 2284.8,210.6 2283.3,217.9 2281.9,225.1 2280.4,232.3 2278.9,239.5 2277.5,246.7 2276.0,253.9 2274.6,261.1 2273.1,268.3 2271.7,275.5 2270.2,282.7 2268.8,289.9 2267.3,297.1" fill="#54c3f1" />
<polygon points="2267.3,297.1 2269.4,290.0 2271.5,282.9 2273.6,275.9 2275.7,268.8 2277.7,261.7 2279.8,254.6 2281.9,247.6 2284.0,240.5 2286.1,233.4 2288.2,226.3 2290.3,219.3 2292.4,212.2 2294.5,205.1 2296.6,198.0 2298.6,191.0 2300.7,183.9 2302.8,176.8 2327.0,181.7 2299.8,136.2 2292.0,174.6 2292.0,174.6 2290.6,181.8 2289.1,189.0 2287.7,196.2 2286.2,203.4 2284.8,210.6 2283.3,217.9 2281.9,225.1 2280.4,232.3 2278.9,239.5 2277.5,246.7 2276.0,253.9 2274.6,261.1 2273.1,268.3 2271.7,275.5 2270.2,282.7 2268.8,289.9 2267.3,297.1" fill="#e60012" />
<polygon points="2436.9,286.3 2439.5,279.8 2442.1,273.2 2444.7,266.7 2447.3,260.2 2449.9,253.6 2452.5,247.1 2455.1,240.6 2457.7,234.0 2460.3,227.5 2462.9,221.0 2465.5,214.4 2468.1,207.9 2470.8,201.4 2473.4,194.8 2476.0,188.3 2478.6,181.8 2481.2,175.3 2483.8,168.7 2461.6,157.6 2511.0,139.1 2493.6,173.7 2493.6,173.7 2490.4,179.9 2487.3,186.2 2484.1,192.4 2481.0,198.7 2477.8,205.0 2474.7,211.2 2471.5,217.5 2468.4,223.7 2465.2,230.0 2462.1,236.2 2458.9,242.5 2455.8,248.8 2452.6,255.0 2449.5,261.3 2446.3,267.5 2443.2,273.8 2440.0,280.0 2436.9,286.3" fill="#e60012" />
<polygon points="2436.9,286.3 2440.6,280.3 2444.3,274.3 2448.0,268.4 2451.7,262.4 2455.4,256.4 2459.1,250.4 2462.8,244.4 2466.5,238.4 2470.2,232.5 2473.9,226.5 2477.6,220.5 2481.2,214.5 2484.9,208.5 2488.6,202.5 2492.3,196.6 2496.0,190.6 2499.7,184.6 2503.4,178.6 2525.6,189.8 2511.0,139.1 2493.6,173.7 2493.6,173.7 2490.4,179.9 2487.3,186.2 2484.1,192.4 2481.0,198.7 2477.8,205.0 2474.7,211.2 2471.5,217.5 2468.4,223.7 2465.2,230.0 2462.1,236.2 2458.9,242.5 2455.8,248.8 2452.6,255.0 2449.5,261.3 2446.3,267.5 2443.2,273.8 2440.0,280.0 2436.9,286.3" fill="#54c3f1" />
<polygon points="2387.3,966.7 2390.7,972.9 2394.1,979.1 2397.5,985.4 2400.9,991.6 2404.4,997.8 2407.8,1004.0 2411.2,1010.3 2414.6,1016.5 2418.0,1022.7 2421.4,1028.9 2424.8,1035.2 2428.2,1041.4 2444.1,1035.8 2426.1,1076.1 2386.8,1056.1 2402.6,1050.5 2401.3,1043.5 2400.0,1036.5 2398.8,1029.5 2397.5,1022.6 2396.2,1015.6 2394.9,1008.6 2393.7,1001.6 2392.4,994.6 2391.1,987.6 2389.8,980.7 2388.6,973.7 2387.3,966.7" fill="#fff" stroke="#fff" stroke-width="6" stroke-linejoin="miter"/>
<polygon points="2387.3,966.7 2390.7,972.9 2394.1,979.1 2397.5,985.4 2400.9,991.6 2404.4,997.8 2407.8,1004.0 2411.2,1010.3 2414.6,1016.5 2418.0,1022.7 2421.4,1028.9 2424.8,1035.2 2428.2,1041.4 2444.1,1035.8 2426.1,1076.1 2415.4,1045.9 2415.4,1045.9 2413.1,1039.3 2410.7,1032.7 2408.4,1026.1 2406.0,1019.5 2403.7,1012.9 2401.4,1006.3 2399.0,999.7 2396.7,993.1 2394.3,986.5 2392.0,979.9 2389.6,973.3 2387.3,966.7" fill="#e60012" />
<polygon points="2387.3,966.7 2388.6,973.7 2389.8,980.7 2391.1,987.6 2392.4,994.6 2393.7,1001.6 2394.9,1008.6 2396.2,1015.6 2397.5,1022.6 2398.8,1029.5 2400.0,1036.5 2401.3,1043.5 2402.6,1050.5 2386.8,1056.1 2426.1,1076.1 2415.4,1045.9 2415.4,1045.9 2413.1,1039.3 2410.7,1032.7 2408.4,1026.1 2406.0,1019.5 2403.7,1012.9 2401.4,1006.3 2399.0,999.7 2396.7,993.1 2394.3,986.5 2392.0,979.9 2389.6,973.3 2387.3,966.7" fill="#54c3f1" />
<polygon points="2536.3,1354.7 2541.6,1359.8 2547.0,1364.8 2552.4,1369.8 2557.8,1374.9 2563.1,1380.0 2568.4,1385.3 2573.5,1390.7 2578.6,1396.1 2583.7,1401.5 2588.7,1407.0 2593.7,1412.5 2598.6,1417.9 2613.9,1407.4 2604.3,1447.0 2563.8,1441.8 2579.1,1431.3 2575.8,1424.7 2572.5,1418.2 2569.2,1411.7 2565.8,1405.2 2562.4,1398.8 2558.9,1392.4 2555.3,1386.1 2551.6,1379.8 2547.8,1373.5 2544.0,1367.3 2540.1,1361.0 2536.3,1354.7" fill="#fff" stroke="#fff" stroke-width="6" stroke-linejoin="miter"/>
<polygon points="2536.3,1354.7 2541.6,1359.8 2547.0,1364.8 2552.4,1369.8 2557.8,1374.9 2563.1,1380.0 2568.4,1385.3 2573.5,1390.7 2578.6,1396.1 2583.7,1401.5 2588.7,1407.0 2593.7,1412.5 2598.6,1417.9 2613.9,1407.4 2604.3,1447.0 2588.9,1424.6 2588.9,1424.6 2584.7,1418.6 2580.6,1412.6 2576.4,1406.6 2572.2,1400.6 2568.0,1394.7 2563.7,1388.8 2559.2,1383.0 2554.7,1377.3 2550.1,1371.7 2545.5,1366.0 2540.9,1360.4 2536.3,1354.7" fill="#e60012" />
<polygon points="2536.3,1354.7 2540.1,1361.0 2544.0,1367.3 2547.8,1373.5 2551.6,1379.8 2555.3,1386.1 2558.9,1392.4 2562.4,1398.8 2565.8,1405.2 2569.2,1411.7 2572.5,1418.2 2575.8,1424.7 2579.1,1431.3 2563.8,1441.8 2604.3,1447.0 2588.9,1424.6 2588.9,1424.6 2584.7,1418.6 2580.6,1412.6 2576.4,1406.6 2572.2,1400.6 2568.0,1394.7 2563.7,1388.8 2559.2,1383.0 2554.7,1377.3 2550.1,1371.7 2545.5,1366.0 2540.9,1360.4 2536.3,1354.7" fill="#54c3f1" />
<g fill="#000" fill-opacity="0.04" style="pointer-events:none">
<polygon points="943,1524.6 1012,1186.6 1276.8,1405.5 1219.4,1425.2 1086.6,1317.5 1054.3,1484.4"/>
<polygon points="1022,1165 1072.2,1143.5 1208.6,1251.2 1244.5,1084.3 1353.9,1046.6 1276.8,1405.5 1212.2,1283.5"/>
<text x="1430.9" y="1152.1" transform="rotate(-20.4 1430.9 1152.1)" font-family="Liberation Sans, sans-serif" font-weight="bold" font-style="italic" font-size="146" letter-spacing="11">NOVOSENSE</text>
<text x="1484" y="1366" transform="rotate(-19.5 1484 1366)" font-family="Liberation Sans, Noto Sans CJK SC, sans-serif" font-weight="500" font-size="185" letter-spacing="27">纳芯微电子</text>
</g>
</svg>
<div class="ln" style="top:1579.7px"><span class="en" style="left:94.5px;top:2.0px">Fresh Air /</span><span class="zh" style="left:501.4px;top:3.0px">空气</span></div>
<div class="ln" style="top:1699.2px"><span class="en" style="left:96.0px;top:2.0px">Cooled Air /</span><span class="zh" style="left:555.7px;top:3.0px">冷风</span></div>
<div class="ln" style="top:1819.2px"><span class="en" style="left:95.6px;top:2.0px">Heated Air /</span><span class="zh" style="left:551.0px;top:3.0px">热风</span></div>
<div class="ln" style="top:1938.9px"><span class="en" style="left:95.9px;top:2.0px">Mixed Air /</span><span class="zh" style="left:512.5px;top:3.0px">冷热风</span></div>

</body></html>
